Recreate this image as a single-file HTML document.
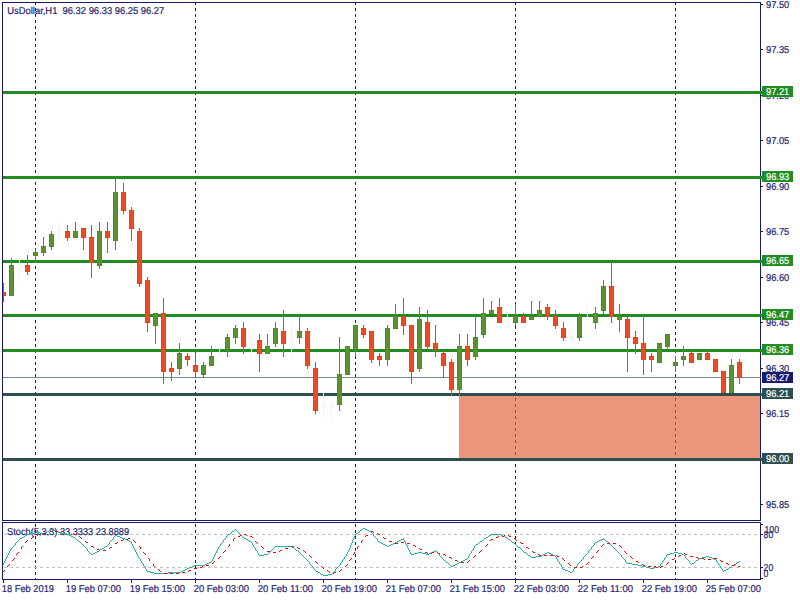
<!DOCTYPE html>
<html><head><meta charset="utf-8"><title>UsDollar,H1</title>
<style>html,body{margin:0;padding:0;background:#fff;overflow:hidden}svg{display:block}.t{font-family:"Liberation Sans",sans-serif;font-size:10px;shape-rendering:auto;text-rendering:geometricPrecision;stroke-width:0.18px}</style>
</head><body>
<svg width="800" height="600" viewBox="0 0 800 600" shape-rendering="crispEdges">
<rect x="0" y="0" width="800" height="600" fill="#FFFFFF"/>
<rect x="459" y="396" width="301" height="62" fill="#E9967A"/>
<rect x="35" y="3" width="1" height="2" fill="#191970"/>
<rect x="35" y="8" width="1" height="3" fill="#191970"/>
<rect x="35" y="14" width="1" height="3" fill="#191970"/>
<rect x="35" y="20" width="1" height="3" fill="#191970"/>
<rect x="35" y="26" width="1" height="3" fill="#191970"/>
<rect x="35" y="32" width="1" height="3" fill="#191970"/>
<rect x="35" y="38" width="1" height="3" fill="#191970"/>
<rect x="35" y="44" width="1" height="3" fill="#191970"/>
<rect x="35" y="50" width="1" height="3" fill="#191970"/>
<rect x="35" y="56" width="1" height="3" fill="#191970"/>
<rect x="35" y="62" width="1" height="3" fill="#191970"/>
<rect x="35" y="68" width="1" height="3" fill="#191970"/>
<rect x="35" y="74" width="1" height="3" fill="#191970"/>
<rect x="35" y="80" width="1" height="3" fill="#191970"/>
<rect x="35" y="86" width="1" height="3" fill="#191970"/>
<rect x="35" y="92" width="1" height="3" fill="#191970"/>
<rect x="35" y="98" width="1" height="3" fill="#191970"/>
<rect x="35" y="104" width="1" height="3" fill="#191970"/>
<rect x="35" y="110" width="1" height="3" fill="#191970"/>
<rect x="35" y="116" width="1" height="3" fill="#191970"/>
<rect x="35" y="122" width="1" height="3" fill="#191970"/>
<rect x="35" y="128" width="1" height="3" fill="#191970"/>
<rect x="35" y="134" width="1" height="3" fill="#191970"/>
<rect x="35" y="140" width="1" height="3" fill="#191970"/>
<rect x="35" y="146" width="1" height="3" fill="#191970"/>
<rect x="35" y="152" width="1" height="3" fill="#191970"/>
<rect x="35" y="158" width="1" height="3" fill="#191970"/>
<rect x="35" y="164" width="1" height="3" fill="#191970"/>
<rect x="35" y="170" width="1" height="3" fill="#191970"/>
<rect x="35" y="176" width="1" height="3" fill="#191970"/>
<rect x="35" y="182" width="1" height="3" fill="#191970"/>
<rect x="35" y="188" width="1" height="3" fill="#191970"/>
<rect x="35" y="194" width="1" height="3" fill="#191970"/>
<rect x="35" y="200" width="1" height="3" fill="#191970"/>
<rect x="35" y="206" width="1" height="3" fill="#191970"/>
<rect x="35" y="212" width="1" height="3" fill="#191970"/>
<rect x="35" y="218" width="1" height="3" fill="#191970"/>
<rect x="35" y="224" width="1" height="3" fill="#191970"/>
<rect x="35" y="230" width="1" height="3" fill="#191970"/>
<rect x="35" y="236" width="1" height="3" fill="#191970"/>
<rect x="35" y="242" width="1" height="3" fill="#191970"/>
<rect x="35" y="248" width="1" height="3" fill="#191970"/>
<rect x="35" y="254" width="1" height="3" fill="#191970"/>
<rect x="35" y="260" width="1" height="3" fill="#191970"/>
<rect x="35" y="266" width="1" height="3" fill="#191970"/>
<rect x="35" y="272" width="1" height="3" fill="#191970"/>
<rect x="35" y="278" width="1" height="3" fill="#191970"/>
<rect x="35" y="284" width="1" height="3" fill="#191970"/>
<rect x="35" y="290" width="1" height="3" fill="#191970"/>
<rect x="35" y="296" width="1" height="3" fill="#191970"/>
<rect x="35" y="302" width="1" height="3" fill="#191970"/>
<rect x="35" y="308" width="1" height="3" fill="#191970"/>
<rect x="35" y="314" width="1" height="3" fill="#191970"/>
<rect x="35" y="320" width="1" height="3" fill="#191970"/>
<rect x="35" y="326" width="1" height="3" fill="#191970"/>
<rect x="35" y="332" width="1" height="3" fill="#191970"/>
<rect x="35" y="338" width="1" height="3" fill="#191970"/>
<rect x="35" y="344" width="1" height="3" fill="#191970"/>
<rect x="35" y="350" width="1" height="3" fill="#191970"/>
<rect x="35" y="356" width="1" height="3" fill="#191970"/>
<rect x="35" y="362" width="1" height="3" fill="#191970"/>
<rect x="35" y="368" width="1" height="3" fill="#191970"/>
<rect x="35" y="374" width="1" height="3" fill="#191970"/>
<rect x="35" y="380" width="1" height="3" fill="#191970"/>
<rect x="35" y="386" width="1" height="3" fill="#191970"/>
<rect x="35" y="392" width="1" height="3" fill="#191970"/>
<rect x="35" y="398" width="1" height="3" fill="#191970"/>
<rect x="35" y="404" width="1" height="3" fill="#191970"/>
<rect x="35" y="410" width="1" height="3" fill="#191970"/>
<rect x="35" y="416" width="1" height="3" fill="#191970"/>
<rect x="35" y="422" width="1" height="3" fill="#191970"/>
<rect x="35" y="428" width="1" height="3" fill="#191970"/>
<rect x="35" y="434" width="1" height="3" fill="#191970"/>
<rect x="35" y="440" width="1" height="3" fill="#191970"/>
<rect x="35" y="446" width="1" height="3" fill="#191970"/>
<rect x="35" y="452" width="1" height="3" fill="#191970"/>
<rect x="35" y="458" width="1" height="3" fill="#191970"/>
<rect x="35" y="464" width="1" height="3" fill="#191970"/>
<rect x="35" y="470" width="1" height="3" fill="#191970"/>
<rect x="35" y="476" width="1" height="3" fill="#191970"/>
<rect x="35" y="482" width="1" height="3" fill="#191970"/>
<rect x="35" y="488" width="1" height="3" fill="#191970"/>
<rect x="35" y="494" width="1" height="3" fill="#191970"/>
<rect x="35" y="500" width="1" height="3" fill="#191970"/>
<rect x="35" y="506" width="1" height="3" fill="#191970"/>
<rect x="35" y="512" width="1" height="3" fill="#191970"/>
<rect x="35" y="518" width="1" height="2" fill="#191970"/>
<rect x="35" y="524" width="1" height="3" fill="#191970"/>
<rect x="35" y="530" width="1" height="3" fill="#191970"/>
<rect x="35" y="536" width="1" height="3" fill="#191970"/>
<rect x="35" y="542" width="1" height="3" fill="#191970"/>
<rect x="35" y="548" width="1" height="3" fill="#191970"/>
<rect x="35" y="554" width="1" height="3" fill="#191970"/>
<rect x="35" y="560" width="1" height="3" fill="#191970"/>
<rect x="35" y="566" width="1" height="3" fill="#191970"/>
<rect x="35" y="572" width="1" height="3" fill="#191970"/>
<rect x="35" y="578" width="1" height="1" fill="#191970"/>
<rect x="195" y="3" width="1" height="2" fill="#191970"/>
<rect x="195" y="8" width="1" height="3" fill="#191970"/>
<rect x="195" y="14" width="1" height="3" fill="#191970"/>
<rect x="195" y="20" width="1" height="3" fill="#191970"/>
<rect x="195" y="26" width="1" height="3" fill="#191970"/>
<rect x="195" y="32" width="1" height="3" fill="#191970"/>
<rect x="195" y="38" width="1" height="3" fill="#191970"/>
<rect x="195" y="44" width="1" height="3" fill="#191970"/>
<rect x="195" y="50" width="1" height="3" fill="#191970"/>
<rect x="195" y="56" width="1" height="3" fill="#191970"/>
<rect x="195" y="62" width="1" height="3" fill="#191970"/>
<rect x="195" y="68" width="1" height="3" fill="#191970"/>
<rect x="195" y="74" width="1" height="3" fill="#191970"/>
<rect x="195" y="80" width="1" height="3" fill="#191970"/>
<rect x="195" y="86" width="1" height="3" fill="#191970"/>
<rect x="195" y="92" width="1" height="3" fill="#191970"/>
<rect x="195" y="98" width="1" height="3" fill="#191970"/>
<rect x="195" y="104" width="1" height="3" fill="#191970"/>
<rect x="195" y="110" width="1" height="3" fill="#191970"/>
<rect x="195" y="116" width="1" height="3" fill="#191970"/>
<rect x="195" y="122" width="1" height="3" fill="#191970"/>
<rect x="195" y="128" width="1" height="3" fill="#191970"/>
<rect x="195" y="134" width="1" height="3" fill="#191970"/>
<rect x="195" y="140" width="1" height="3" fill="#191970"/>
<rect x="195" y="146" width="1" height="3" fill="#191970"/>
<rect x="195" y="152" width="1" height="3" fill="#191970"/>
<rect x="195" y="158" width="1" height="3" fill="#191970"/>
<rect x="195" y="164" width="1" height="3" fill="#191970"/>
<rect x="195" y="170" width="1" height="3" fill="#191970"/>
<rect x="195" y="176" width="1" height="3" fill="#191970"/>
<rect x="195" y="182" width="1" height="3" fill="#191970"/>
<rect x="195" y="188" width="1" height="3" fill="#191970"/>
<rect x="195" y="194" width="1" height="3" fill="#191970"/>
<rect x="195" y="200" width="1" height="3" fill="#191970"/>
<rect x="195" y="206" width="1" height="3" fill="#191970"/>
<rect x="195" y="212" width="1" height="3" fill="#191970"/>
<rect x="195" y="218" width="1" height="3" fill="#191970"/>
<rect x="195" y="224" width="1" height="3" fill="#191970"/>
<rect x="195" y="230" width="1" height="3" fill="#191970"/>
<rect x="195" y="236" width="1" height="3" fill="#191970"/>
<rect x="195" y="242" width="1" height="3" fill="#191970"/>
<rect x="195" y="248" width="1" height="3" fill="#191970"/>
<rect x="195" y="254" width="1" height="3" fill="#191970"/>
<rect x="195" y="260" width="1" height="3" fill="#191970"/>
<rect x="195" y="266" width="1" height="3" fill="#191970"/>
<rect x="195" y="272" width="1" height="3" fill="#191970"/>
<rect x="195" y="278" width="1" height="3" fill="#191970"/>
<rect x="195" y="284" width="1" height="3" fill="#191970"/>
<rect x="195" y="290" width="1" height="3" fill="#191970"/>
<rect x="195" y="296" width="1" height="3" fill="#191970"/>
<rect x="195" y="302" width="1" height="3" fill="#191970"/>
<rect x="195" y="308" width="1" height="3" fill="#191970"/>
<rect x="195" y="314" width="1" height="3" fill="#191970"/>
<rect x="195" y="320" width="1" height="3" fill="#191970"/>
<rect x="195" y="326" width="1" height="3" fill="#191970"/>
<rect x="195" y="332" width="1" height="3" fill="#191970"/>
<rect x="195" y="338" width="1" height="3" fill="#191970"/>
<rect x="195" y="344" width="1" height="3" fill="#191970"/>
<rect x="195" y="350" width="1" height="3" fill="#191970"/>
<rect x="195" y="356" width="1" height="3" fill="#191970"/>
<rect x="195" y="362" width="1" height="3" fill="#191970"/>
<rect x="195" y="368" width="1" height="3" fill="#191970"/>
<rect x="195" y="374" width="1" height="3" fill="#191970"/>
<rect x="195" y="380" width="1" height="3" fill="#191970"/>
<rect x="195" y="386" width="1" height="3" fill="#191970"/>
<rect x="195" y="392" width="1" height="3" fill="#191970"/>
<rect x="195" y="398" width="1" height="3" fill="#191970"/>
<rect x="195" y="404" width="1" height="3" fill="#191970"/>
<rect x="195" y="410" width="1" height="3" fill="#191970"/>
<rect x="195" y="416" width="1" height="3" fill="#191970"/>
<rect x="195" y="422" width="1" height="3" fill="#191970"/>
<rect x="195" y="428" width="1" height="3" fill="#191970"/>
<rect x="195" y="434" width="1" height="3" fill="#191970"/>
<rect x="195" y="440" width="1" height="3" fill="#191970"/>
<rect x="195" y="446" width="1" height="3" fill="#191970"/>
<rect x="195" y="452" width="1" height="3" fill="#191970"/>
<rect x="195" y="458" width="1" height="3" fill="#191970"/>
<rect x="195" y="464" width="1" height="3" fill="#191970"/>
<rect x="195" y="470" width="1" height="3" fill="#191970"/>
<rect x="195" y="476" width="1" height="3" fill="#191970"/>
<rect x="195" y="482" width="1" height="3" fill="#191970"/>
<rect x="195" y="488" width="1" height="3" fill="#191970"/>
<rect x="195" y="494" width="1" height="3" fill="#191970"/>
<rect x="195" y="500" width="1" height="3" fill="#191970"/>
<rect x="195" y="506" width="1" height="3" fill="#191970"/>
<rect x="195" y="512" width="1" height="3" fill="#191970"/>
<rect x="195" y="518" width="1" height="2" fill="#191970"/>
<rect x="195" y="524" width="1" height="3" fill="#191970"/>
<rect x="195" y="530" width="1" height="3" fill="#191970"/>
<rect x="195" y="536" width="1" height="3" fill="#191970"/>
<rect x="195" y="542" width="1" height="3" fill="#191970"/>
<rect x="195" y="548" width="1" height="3" fill="#191970"/>
<rect x="195" y="554" width="1" height="3" fill="#191970"/>
<rect x="195" y="560" width="1" height="3" fill="#191970"/>
<rect x="195" y="566" width="1" height="3" fill="#191970"/>
<rect x="195" y="572" width="1" height="3" fill="#191970"/>
<rect x="195" y="578" width="1" height="1" fill="#191970"/>
<rect x="355" y="3" width="1" height="2" fill="#191970"/>
<rect x="355" y="8" width="1" height="3" fill="#191970"/>
<rect x="355" y="14" width="1" height="3" fill="#191970"/>
<rect x="355" y="20" width="1" height="3" fill="#191970"/>
<rect x="355" y="26" width="1" height="3" fill="#191970"/>
<rect x="355" y="32" width="1" height="3" fill="#191970"/>
<rect x="355" y="38" width="1" height="3" fill="#191970"/>
<rect x="355" y="44" width="1" height="3" fill="#191970"/>
<rect x="355" y="50" width="1" height="3" fill="#191970"/>
<rect x="355" y="56" width="1" height="3" fill="#191970"/>
<rect x="355" y="62" width="1" height="3" fill="#191970"/>
<rect x="355" y="68" width="1" height="3" fill="#191970"/>
<rect x="355" y="74" width="1" height="3" fill="#191970"/>
<rect x="355" y="80" width="1" height="3" fill="#191970"/>
<rect x="355" y="86" width="1" height="3" fill="#191970"/>
<rect x="355" y="92" width="1" height="3" fill="#191970"/>
<rect x="355" y="98" width="1" height="3" fill="#191970"/>
<rect x="355" y="104" width="1" height="3" fill="#191970"/>
<rect x="355" y="110" width="1" height="3" fill="#191970"/>
<rect x="355" y="116" width="1" height="3" fill="#191970"/>
<rect x="355" y="122" width="1" height="3" fill="#191970"/>
<rect x="355" y="128" width="1" height="3" fill="#191970"/>
<rect x="355" y="134" width="1" height="3" fill="#191970"/>
<rect x="355" y="140" width="1" height="3" fill="#191970"/>
<rect x="355" y="146" width="1" height="3" fill="#191970"/>
<rect x="355" y="152" width="1" height="3" fill="#191970"/>
<rect x="355" y="158" width="1" height="3" fill="#191970"/>
<rect x="355" y="164" width="1" height="3" fill="#191970"/>
<rect x="355" y="170" width="1" height="3" fill="#191970"/>
<rect x="355" y="176" width="1" height="3" fill="#191970"/>
<rect x="355" y="182" width="1" height="3" fill="#191970"/>
<rect x="355" y="188" width="1" height="3" fill="#191970"/>
<rect x="355" y="194" width="1" height="3" fill="#191970"/>
<rect x="355" y="200" width="1" height="3" fill="#191970"/>
<rect x="355" y="206" width="1" height="3" fill="#191970"/>
<rect x="355" y="212" width="1" height="3" fill="#191970"/>
<rect x="355" y="218" width="1" height="3" fill="#191970"/>
<rect x="355" y="224" width="1" height="3" fill="#191970"/>
<rect x="355" y="230" width="1" height="3" fill="#191970"/>
<rect x="355" y="236" width="1" height="3" fill="#191970"/>
<rect x="355" y="242" width="1" height="3" fill="#191970"/>
<rect x="355" y="248" width="1" height="3" fill="#191970"/>
<rect x="355" y="254" width="1" height="3" fill="#191970"/>
<rect x="355" y="260" width="1" height="3" fill="#191970"/>
<rect x="355" y="266" width="1" height="3" fill="#191970"/>
<rect x="355" y="272" width="1" height="3" fill="#191970"/>
<rect x="355" y="278" width="1" height="3" fill="#191970"/>
<rect x="355" y="284" width="1" height="3" fill="#191970"/>
<rect x="355" y="290" width="1" height="3" fill="#191970"/>
<rect x="355" y="296" width="1" height="3" fill="#191970"/>
<rect x="355" y="302" width="1" height="3" fill="#191970"/>
<rect x="355" y="308" width="1" height="3" fill="#191970"/>
<rect x="355" y="314" width="1" height="3" fill="#191970"/>
<rect x="355" y="320" width="1" height="3" fill="#191970"/>
<rect x="355" y="326" width="1" height="3" fill="#191970"/>
<rect x="355" y="332" width="1" height="3" fill="#191970"/>
<rect x="355" y="338" width="1" height="3" fill="#191970"/>
<rect x="355" y="344" width="1" height="3" fill="#191970"/>
<rect x="355" y="350" width="1" height="3" fill="#191970"/>
<rect x="355" y="356" width="1" height="3" fill="#191970"/>
<rect x="355" y="362" width="1" height="3" fill="#191970"/>
<rect x="355" y="368" width="1" height="3" fill="#191970"/>
<rect x="355" y="374" width="1" height="3" fill="#191970"/>
<rect x="355" y="380" width="1" height="3" fill="#191970"/>
<rect x="355" y="386" width="1" height="3" fill="#191970"/>
<rect x="355" y="392" width="1" height="3" fill="#191970"/>
<rect x="355" y="398" width="1" height="3" fill="#191970"/>
<rect x="355" y="404" width="1" height="3" fill="#191970"/>
<rect x="355" y="410" width="1" height="3" fill="#191970"/>
<rect x="355" y="416" width="1" height="3" fill="#191970"/>
<rect x="355" y="422" width="1" height="3" fill="#191970"/>
<rect x="355" y="428" width="1" height="3" fill="#191970"/>
<rect x="355" y="434" width="1" height="3" fill="#191970"/>
<rect x="355" y="440" width="1" height="3" fill="#191970"/>
<rect x="355" y="446" width="1" height="3" fill="#191970"/>
<rect x="355" y="452" width="1" height="3" fill="#191970"/>
<rect x="355" y="458" width="1" height="3" fill="#191970"/>
<rect x="355" y="464" width="1" height="3" fill="#191970"/>
<rect x="355" y="470" width="1" height="3" fill="#191970"/>
<rect x="355" y="476" width="1" height="3" fill="#191970"/>
<rect x="355" y="482" width="1" height="3" fill="#191970"/>
<rect x="355" y="488" width="1" height="3" fill="#191970"/>
<rect x="355" y="494" width="1" height="3" fill="#191970"/>
<rect x="355" y="500" width="1" height="3" fill="#191970"/>
<rect x="355" y="506" width="1" height="3" fill="#191970"/>
<rect x="355" y="512" width="1" height="3" fill="#191970"/>
<rect x="355" y="518" width="1" height="2" fill="#191970"/>
<rect x="355" y="524" width="1" height="3" fill="#191970"/>
<rect x="355" y="530" width="1" height="3" fill="#191970"/>
<rect x="355" y="536" width="1" height="3" fill="#191970"/>
<rect x="355" y="542" width="1" height="3" fill="#191970"/>
<rect x="355" y="548" width="1" height="3" fill="#191970"/>
<rect x="355" y="554" width="1" height="3" fill="#191970"/>
<rect x="355" y="560" width="1" height="3" fill="#191970"/>
<rect x="355" y="566" width="1" height="3" fill="#191970"/>
<rect x="355" y="572" width="1" height="3" fill="#191970"/>
<rect x="355" y="578" width="1" height="1" fill="#191970"/>
<rect x="515" y="3" width="1" height="2" fill="#191970"/>
<rect x="515" y="8" width="1" height="3" fill="#191970"/>
<rect x="515" y="14" width="1" height="3" fill="#191970"/>
<rect x="515" y="20" width="1" height="3" fill="#191970"/>
<rect x="515" y="26" width="1" height="3" fill="#191970"/>
<rect x="515" y="32" width="1" height="3" fill="#191970"/>
<rect x="515" y="38" width="1" height="3" fill="#191970"/>
<rect x="515" y="44" width="1" height="3" fill="#191970"/>
<rect x="515" y="50" width="1" height="3" fill="#191970"/>
<rect x="515" y="56" width="1" height="3" fill="#191970"/>
<rect x="515" y="62" width="1" height="3" fill="#191970"/>
<rect x="515" y="68" width="1" height="3" fill="#191970"/>
<rect x="515" y="74" width="1" height="3" fill="#191970"/>
<rect x="515" y="80" width="1" height="3" fill="#191970"/>
<rect x="515" y="86" width="1" height="3" fill="#191970"/>
<rect x="515" y="92" width="1" height="3" fill="#191970"/>
<rect x="515" y="98" width="1" height="3" fill="#191970"/>
<rect x="515" y="104" width="1" height="3" fill="#191970"/>
<rect x="515" y="110" width="1" height="3" fill="#191970"/>
<rect x="515" y="116" width="1" height="3" fill="#191970"/>
<rect x="515" y="122" width="1" height="3" fill="#191970"/>
<rect x="515" y="128" width="1" height="3" fill="#191970"/>
<rect x="515" y="134" width="1" height="3" fill="#191970"/>
<rect x="515" y="140" width="1" height="3" fill="#191970"/>
<rect x="515" y="146" width="1" height="3" fill="#191970"/>
<rect x="515" y="152" width="1" height="3" fill="#191970"/>
<rect x="515" y="158" width="1" height="3" fill="#191970"/>
<rect x="515" y="164" width="1" height="3" fill="#191970"/>
<rect x="515" y="170" width="1" height="3" fill="#191970"/>
<rect x="515" y="176" width="1" height="3" fill="#191970"/>
<rect x="515" y="182" width="1" height="3" fill="#191970"/>
<rect x="515" y="188" width="1" height="3" fill="#191970"/>
<rect x="515" y="194" width="1" height="3" fill="#191970"/>
<rect x="515" y="200" width="1" height="3" fill="#191970"/>
<rect x="515" y="206" width="1" height="3" fill="#191970"/>
<rect x="515" y="212" width="1" height="3" fill="#191970"/>
<rect x="515" y="218" width="1" height="3" fill="#191970"/>
<rect x="515" y="224" width="1" height="3" fill="#191970"/>
<rect x="515" y="230" width="1" height="3" fill="#191970"/>
<rect x="515" y="236" width="1" height="3" fill="#191970"/>
<rect x="515" y="242" width="1" height="3" fill="#191970"/>
<rect x="515" y="248" width="1" height="3" fill="#191970"/>
<rect x="515" y="254" width="1" height="3" fill="#191970"/>
<rect x="515" y="260" width="1" height="3" fill="#191970"/>
<rect x="515" y="266" width="1" height="3" fill="#191970"/>
<rect x="515" y="272" width="1" height="3" fill="#191970"/>
<rect x="515" y="278" width="1" height="3" fill="#191970"/>
<rect x="515" y="284" width="1" height="3" fill="#191970"/>
<rect x="515" y="290" width="1" height="3" fill="#191970"/>
<rect x="515" y="296" width="1" height="3" fill="#191970"/>
<rect x="515" y="302" width="1" height="3" fill="#191970"/>
<rect x="515" y="308" width="1" height="3" fill="#191970"/>
<rect x="515" y="314" width="1" height="3" fill="#191970"/>
<rect x="515" y="320" width="1" height="3" fill="#191970"/>
<rect x="515" y="326" width="1" height="3" fill="#191970"/>
<rect x="515" y="332" width="1" height="3" fill="#191970"/>
<rect x="515" y="338" width="1" height="3" fill="#191970"/>
<rect x="515" y="344" width="1" height="3" fill="#191970"/>
<rect x="515" y="350" width="1" height="3" fill="#191970"/>
<rect x="515" y="356" width="1" height="3" fill="#191970"/>
<rect x="515" y="362" width="1" height="3" fill="#191970"/>
<rect x="515" y="368" width="1" height="3" fill="#191970"/>
<rect x="515" y="374" width="1" height="3" fill="#191970"/>
<rect x="515" y="380" width="1" height="3" fill="#191970"/>
<rect x="515" y="386" width="1" height="3" fill="#191970"/>
<rect x="515" y="392" width="1" height="3" fill="#191970"/>
<rect x="515" y="398" width="1" height="1" fill="#0F70F5"/>
<rect x="515" y="399" width="1" height="1" fill="#0F70F5"/>
<rect x="515" y="400" width="1" height="1" fill="#0F70F5"/>
<rect x="515" y="404" width="1" height="1" fill="#0F70F5"/>
<rect x="515" y="405" width="1" height="1" fill="#0F70F5"/>
<rect x="515" y="406" width="1" height="1" fill="#0F70F5"/>
<rect x="515" y="410" width="1" height="1" fill="#0F70F5"/>
<rect x="515" y="411" width="1" height="1" fill="#0F70F5"/>
<rect x="515" y="412" width="1" height="1" fill="#0F70F5"/>
<rect x="515" y="416" width="1" height="1" fill="#0F70F5"/>
<rect x="515" y="417" width="1" height="1" fill="#0F70F5"/>
<rect x="515" y="418" width="1" height="1" fill="#0F70F5"/>
<rect x="515" y="422" width="1" height="1" fill="#0F70F5"/>
<rect x="515" y="423" width="1" height="1" fill="#0F70F5"/>
<rect x="515" y="424" width="1" height="1" fill="#0F70F5"/>
<rect x="515" y="428" width="1" height="1" fill="#0F70F5"/>
<rect x="515" y="429" width="1" height="1" fill="#0F70F5"/>
<rect x="515" y="430" width="1" height="1" fill="#0F70F5"/>
<rect x="515" y="434" width="1" height="1" fill="#0F70F5"/>
<rect x="515" y="435" width="1" height="1" fill="#0F70F5"/>
<rect x="515" y="436" width="1" height="1" fill="#0F70F5"/>
<rect x="515" y="440" width="1" height="1" fill="#0F70F5"/>
<rect x="515" y="441" width="1" height="1" fill="#0F70F5"/>
<rect x="515" y="442" width="1" height="1" fill="#0F70F5"/>
<rect x="515" y="446" width="1" height="1" fill="#0F70F5"/>
<rect x="515" y="447" width="1" height="1" fill="#0F70F5"/>
<rect x="515" y="448" width="1" height="1" fill="#0F70F5"/>
<rect x="515" y="452" width="1" height="1" fill="#0F70F5"/>
<rect x="515" y="453" width="1" height="1" fill="#0F70F5"/>
<rect x="515" y="454" width="1" height="1" fill="#0F70F5"/>
<rect x="515" y="458" width="1" height="3" fill="#191970"/>
<rect x="515" y="464" width="1" height="3" fill="#191970"/>
<rect x="515" y="470" width="1" height="3" fill="#191970"/>
<rect x="515" y="476" width="1" height="3" fill="#191970"/>
<rect x="515" y="482" width="1" height="3" fill="#191970"/>
<rect x="515" y="488" width="1" height="3" fill="#191970"/>
<rect x="515" y="494" width="1" height="3" fill="#191970"/>
<rect x="515" y="500" width="1" height="3" fill="#191970"/>
<rect x="515" y="506" width="1" height="3" fill="#191970"/>
<rect x="515" y="512" width="1" height="3" fill="#191970"/>
<rect x="515" y="518" width="1" height="2" fill="#191970"/>
<rect x="515" y="524" width="1" height="3" fill="#191970"/>
<rect x="515" y="530" width="1" height="3" fill="#191970"/>
<rect x="515" y="536" width="1" height="3" fill="#191970"/>
<rect x="515" y="542" width="1" height="3" fill="#191970"/>
<rect x="515" y="548" width="1" height="3" fill="#191970"/>
<rect x="515" y="554" width="1" height="3" fill="#191970"/>
<rect x="515" y="560" width="1" height="3" fill="#191970"/>
<rect x="515" y="566" width="1" height="3" fill="#191970"/>
<rect x="515" y="572" width="1" height="3" fill="#191970"/>
<rect x="515" y="578" width="1" height="1" fill="#191970"/>
<rect x="675" y="3" width="1" height="2" fill="#191970"/>
<rect x="675" y="8" width="1" height="3" fill="#191970"/>
<rect x="675" y="14" width="1" height="3" fill="#191970"/>
<rect x="675" y="20" width="1" height="3" fill="#191970"/>
<rect x="675" y="26" width="1" height="3" fill="#191970"/>
<rect x="675" y="32" width="1" height="3" fill="#191970"/>
<rect x="675" y="38" width="1" height="3" fill="#191970"/>
<rect x="675" y="44" width="1" height="3" fill="#191970"/>
<rect x="675" y="50" width="1" height="3" fill="#191970"/>
<rect x="675" y="56" width="1" height="3" fill="#191970"/>
<rect x="675" y="62" width="1" height="3" fill="#191970"/>
<rect x="675" y="68" width="1" height="3" fill="#191970"/>
<rect x="675" y="74" width="1" height="3" fill="#191970"/>
<rect x="675" y="80" width="1" height="3" fill="#191970"/>
<rect x="675" y="86" width="1" height="3" fill="#191970"/>
<rect x="675" y="92" width="1" height="3" fill="#191970"/>
<rect x="675" y="98" width="1" height="3" fill="#191970"/>
<rect x="675" y="104" width="1" height="3" fill="#191970"/>
<rect x="675" y="110" width="1" height="3" fill="#191970"/>
<rect x="675" y="116" width="1" height="3" fill="#191970"/>
<rect x="675" y="122" width="1" height="3" fill="#191970"/>
<rect x="675" y="128" width="1" height="3" fill="#191970"/>
<rect x="675" y="134" width="1" height="3" fill="#191970"/>
<rect x="675" y="140" width="1" height="3" fill="#191970"/>
<rect x="675" y="146" width="1" height="3" fill="#191970"/>
<rect x="675" y="152" width="1" height="3" fill="#191970"/>
<rect x="675" y="158" width="1" height="3" fill="#191970"/>
<rect x="675" y="164" width="1" height="3" fill="#191970"/>
<rect x="675" y="170" width="1" height="3" fill="#191970"/>
<rect x="675" y="176" width="1" height="3" fill="#191970"/>
<rect x="675" y="182" width="1" height="3" fill="#191970"/>
<rect x="675" y="188" width="1" height="3" fill="#191970"/>
<rect x="675" y="194" width="1" height="3" fill="#191970"/>
<rect x="675" y="200" width="1" height="3" fill="#191970"/>
<rect x="675" y="206" width="1" height="3" fill="#191970"/>
<rect x="675" y="212" width="1" height="3" fill="#191970"/>
<rect x="675" y="218" width="1" height="3" fill="#191970"/>
<rect x="675" y="224" width="1" height="3" fill="#191970"/>
<rect x="675" y="230" width="1" height="3" fill="#191970"/>
<rect x="675" y="236" width="1" height="3" fill="#191970"/>
<rect x="675" y="242" width="1" height="3" fill="#191970"/>
<rect x="675" y="248" width="1" height="3" fill="#191970"/>
<rect x="675" y="254" width="1" height="3" fill="#191970"/>
<rect x="675" y="260" width="1" height="3" fill="#191970"/>
<rect x="675" y="266" width="1" height="3" fill="#191970"/>
<rect x="675" y="272" width="1" height="3" fill="#191970"/>
<rect x="675" y="278" width="1" height="3" fill="#191970"/>
<rect x="675" y="284" width="1" height="3" fill="#191970"/>
<rect x="675" y="290" width="1" height="3" fill="#191970"/>
<rect x="675" y="296" width="1" height="3" fill="#191970"/>
<rect x="675" y="302" width="1" height="3" fill="#191970"/>
<rect x="675" y="308" width="1" height="3" fill="#191970"/>
<rect x="675" y="314" width="1" height="3" fill="#191970"/>
<rect x="675" y="320" width="1" height="3" fill="#191970"/>
<rect x="675" y="326" width="1" height="3" fill="#191970"/>
<rect x="675" y="332" width="1" height="3" fill="#191970"/>
<rect x="675" y="338" width="1" height="3" fill="#191970"/>
<rect x="675" y="344" width="1" height="3" fill="#191970"/>
<rect x="675" y="350" width="1" height="3" fill="#191970"/>
<rect x="675" y="356" width="1" height="3" fill="#191970"/>
<rect x="675" y="362" width="1" height="3" fill="#191970"/>
<rect x="675" y="368" width="1" height="3" fill="#191970"/>
<rect x="675" y="374" width="1" height="3" fill="#191970"/>
<rect x="675" y="380" width="1" height="3" fill="#191970"/>
<rect x="675" y="386" width="1" height="3" fill="#191970"/>
<rect x="675" y="392" width="1" height="3" fill="#191970"/>
<rect x="675" y="398" width="1" height="1" fill="#0F70F5"/>
<rect x="675" y="399" width="1" height="1" fill="#0F70F5"/>
<rect x="675" y="400" width="1" height="1" fill="#0F70F5"/>
<rect x="675" y="404" width="1" height="1" fill="#0F70F5"/>
<rect x="675" y="405" width="1" height="1" fill="#0F70F5"/>
<rect x="675" y="406" width="1" height="1" fill="#0F70F5"/>
<rect x="675" y="410" width="1" height="1" fill="#0F70F5"/>
<rect x="675" y="411" width="1" height="1" fill="#0F70F5"/>
<rect x="675" y="412" width="1" height="1" fill="#0F70F5"/>
<rect x="675" y="416" width="1" height="1" fill="#0F70F5"/>
<rect x="675" y="417" width="1" height="1" fill="#0F70F5"/>
<rect x="675" y="418" width="1" height="1" fill="#0F70F5"/>
<rect x="675" y="422" width="1" height="1" fill="#0F70F5"/>
<rect x="675" y="423" width="1" height="1" fill="#0F70F5"/>
<rect x="675" y="424" width="1" height="1" fill="#0F70F5"/>
<rect x="675" y="428" width="1" height="1" fill="#0F70F5"/>
<rect x="675" y="429" width="1" height="1" fill="#0F70F5"/>
<rect x="675" y="430" width="1" height="1" fill="#0F70F5"/>
<rect x="675" y="434" width="1" height="1" fill="#0F70F5"/>
<rect x="675" y="435" width="1" height="1" fill="#0F70F5"/>
<rect x="675" y="436" width="1" height="1" fill="#0F70F5"/>
<rect x="675" y="440" width="1" height="1" fill="#0F70F5"/>
<rect x="675" y="441" width="1" height="1" fill="#0F70F5"/>
<rect x="675" y="442" width="1" height="1" fill="#0F70F5"/>
<rect x="675" y="446" width="1" height="1" fill="#0F70F5"/>
<rect x="675" y="447" width="1" height="1" fill="#0F70F5"/>
<rect x="675" y="448" width="1" height="1" fill="#0F70F5"/>
<rect x="675" y="452" width="1" height="1" fill="#0F70F5"/>
<rect x="675" y="453" width="1" height="1" fill="#0F70F5"/>
<rect x="675" y="454" width="1" height="1" fill="#0F70F5"/>
<rect x="675" y="458" width="1" height="3" fill="#191970"/>
<rect x="675" y="464" width="1" height="3" fill="#191970"/>
<rect x="675" y="470" width="1" height="3" fill="#191970"/>
<rect x="675" y="476" width="1" height="3" fill="#191970"/>
<rect x="675" y="482" width="1" height="3" fill="#191970"/>
<rect x="675" y="488" width="1" height="3" fill="#191970"/>
<rect x="675" y="494" width="1" height="3" fill="#191970"/>
<rect x="675" y="500" width="1" height="3" fill="#191970"/>
<rect x="675" y="506" width="1" height="3" fill="#191970"/>
<rect x="675" y="512" width="1" height="3" fill="#191970"/>
<rect x="675" y="518" width="1" height="2" fill="#191970"/>
<rect x="675" y="524" width="1" height="3" fill="#191970"/>
<rect x="675" y="530" width="1" height="3" fill="#191970"/>
<rect x="675" y="536" width="1" height="3" fill="#191970"/>
<rect x="675" y="542" width="1" height="3" fill="#191970"/>
<rect x="675" y="548" width="1" height="3" fill="#191970"/>
<rect x="675" y="554" width="1" height="3" fill="#191970"/>
<rect x="675" y="560" width="1" height="3" fill="#191970"/>
<rect x="675" y="566" width="1" height="3" fill="#191970"/>
<rect x="675" y="572" width="1" height="3" fill="#191970"/>
<rect x="675" y="578" width="1" height="1" fill="#191970"/>
<rect x="760" y="2" width="1" height="519" fill="#191970"/>
<rect x="761" y="4" width="2" height="1" fill="#191970"/>
<rect x="761" y="49" width="2" height="1" fill="#191970"/>
<rect x="761" y="95" width="2" height="1" fill="#191970"/>
<rect x="761" y="140" width="2" height="1" fill="#191970"/>
<rect x="761" y="186" width="2" height="1" fill="#191970"/>
<rect x="761" y="231" width="2" height="1" fill="#191970"/>
<rect x="761" y="277" width="2" height="1" fill="#191970"/>
<rect x="761" y="322" width="2" height="1" fill="#191970"/>
<rect x="761" y="368" width="2" height="1" fill="#191970"/>
<rect x="761" y="413" width="2" height="1" fill="#191970"/>
<rect x="761" y="459" width="2" height="1" fill="#191970"/>
<rect x="761" y="504" width="2" height="1" fill="#191970"/>
<rect x="3" y="377" width="758" height="1" fill="#778899"/>
<rect x="3" y="91" width="759" height="3" fill="#228B22"/>
<rect x="3" y="176" width="759" height="3" fill="#228B22"/>
<rect x="3" y="260" width="759" height="3" fill="#228B22"/>
<rect x="3" y="314" width="759" height="3" fill="#228B22"/>
<rect x="3" y="349" width="759" height="3" fill="#228B22"/>
<rect x="3" y="393" width="759" height="3" fill="#2F4F4F"/>
<rect x="3" y="458" width="759" height="3" fill="#2F4F4F"/>
<rect x="3" y="283" width="1" height="19" fill="#EC4014"/>
<rect x="3" y="292" width="3" height="4" fill="#EC4014"/>
<rect x="3" y="293" width="2" height="2" fill="#EE4A24"/>
<rect x="11" y="258" width="1" height="38" fill="#528C26"/>
<rect x="9" y="265" width="5" height="31" fill="#528C26"/>
<rect x="10" y="266" width="3" height="29" fill="#5B9230"/>
<rect x="19" y="258" width="1" height="23" fill="#FAF0E6"/>
<rect x="17" y="265" width="5" height="1" fill="#FAF0E6"/>
<rect x="27" y="255" width="1" height="20" fill="#EC4014"/>
<rect x="25" y="265" width="5" height="7" fill="#EC4014"/>
<rect x="26" y="266" width="3" height="5" fill="#EE4A24"/>
<rect x="35" y="249" width="1" height="14" fill="#528C26"/>
<rect x="33" y="252" width="5" height="4" fill="#528C26"/>
<rect x="34" y="253" width="3" height="2" fill="#5B9230"/>
<rect x="43" y="237" width="1" height="19" fill="#528C26"/>
<rect x="41" y="246" width="5" height="7" fill="#528C26"/>
<rect x="42" y="247" width="3" height="5" fill="#5B9230"/>
<rect x="51" y="231" width="1" height="19" fill="#528C26"/>
<rect x="49" y="234" width="5" height="13" fill="#528C26"/>
<rect x="50" y="235" width="3" height="11" fill="#5B9230"/>
<rect x="59" y="222" width="1" height="19" fill="#FAF0E6"/>
<rect x="57" y="231" width="5" height="1" fill="#FAF0E6"/>
<rect x="67" y="225" width="1" height="16" fill="#EC4014"/>
<rect x="65" y="231" width="5" height="7" fill="#EC4014"/>
<rect x="66" y="232" width="3" height="5" fill="#EE4A24"/>
<rect x="75" y="222" width="1" height="16" fill="#528C26"/>
<rect x="73" y="231" width="5" height="7" fill="#528C26"/>
<rect x="74" y="232" width="3" height="5" fill="#5B9230"/>
<rect x="83" y="228" width="1" height="22" fill="#EC4014"/>
<rect x="81" y="228" width="5" height="10" fill="#EC4014"/>
<rect x="82" y="229" width="3" height="8" fill="#EE4A24"/>
<rect x="91" y="225" width="1" height="53" fill="#EC4014"/>
<rect x="89" y="237" width="5" height="26" fill="#EC4014"/>
<rect x="90" y="238" width="3" height="24" fill="#EE4A24"/>
<rect x="99" y="222" width="1" height="47" fill="#528C26"/>
<rect x="97" y="231" width="5" height="35" fill="#528C26"/>
<rect x="98" y="232" width="3" height="33" fill="#5B9230"/>
<rect x="107" y="222" width="1" height="31" fill="#EC4014"/>
<rect x="105" y="231" width="5" height="7" fill="#EC4014"/>
<rect x="106" y="232" width="3" height="5" fill="#EE4A24"/>
<rect x="115" y="177" width="1" height="73" fill="#528C26"/>
<rect x="113" y="192" width="5" height="49" fill="#528C26"/>
<rect x="114" y="193" width="3" height="47" fill="#5B9230"/>
<rect x="123" y="183" width="1" height="31" fill="#EC4014"/>
<rect x="121" y="192" width="5" height="19" fill="#EC4014"/>
<rect x="122" y="193" width="3" height="17" fill="#EE4A24"/>
<rect x="131" y="207" width="1" height="34" fill="#EC4014"/>
<rect x="129" y="210" width="5" height="19" fill="#EC4014"/>
<rect x="130" y="211" width="3" height="17" fill="#EE4A24"/>
<rect x="139" y="228" width="1" height="59" fill="#EC4014"/>
<rect x="137" y="231" width="5" height="53" fill="#EC4014"/>
<rect x="138" y="232" width="3" height="51" fill="#EE4A24"/>
<rect x="147" y="277" width="1" height="55" fill="#EC4014"/>
<rect x="145" y="280" width="5" height="43" fill="#EC4014"/>
<rect x="146" y="281" width="3" height="41" fill="#EE4A24"/>
<rect x="155" y="313" width="1" height="31" fill="#528C26"/>
<rect x="153" y="313" width="5" height="13" fill="#528C26"/>
<rect x="154" y="314" width="3" height="11" fill="#5B9230"/>
<rect x="163" y="298" width="1" height="86" fill="#EC4014"/>
<rect x="161" y="313" width="5" height="59" fill="#EC4014"/>
<rect x="162" y="314" width="3" height="57" fill="#EE4A24"/>
<rect x="171" y="362" width="1" height="19" fill="#EC4014"/>
<rect x="169" y="368" width="5" height="4" fill="#EC4014"/>
<rect x="170" y="369" width="3" height="2" fill="#EE4A24"/>
<rect x="179" y="343" width="1" height="32" fill="#528C26"/>
<rect x="177" y="353" width="5" height="16" fill="#528C26"/>
<rect x="178" y="354" width="3" height="14" fill="#5B9230"/>
<rect x="187" y="353" width="1" height="13" fill="#EC4014"/>
<rect x="185" y="356" width="5" height="4" fill="#EC4014"/>
<rect x="186" y="357" width="3" height="2" fill="#EE4A24"/>
<rect x="195" y="353" width="1" height="25" fill="#EC4014"/>
<rect x="193" y="365" width="5" height="7" fill="#EC4014"/>
<rect x="194" y="366" width="3" height="5" fill="#EE4A24"/>
<rect x="203" y="362" width="1" height="16" fill="#528C26"/>
<rect x="201" y="365" width="5" height="10" fill="#528C26"/>
<rect x="202" y="366" width="3" height="8" fill="#5B9230"/>
<rect x="211" y="346" width="1" height="20" fill="#528C26"/>
<rect x="209" y="356" width="5" height="10" fill="#528C26"/>
<rect x="210" y="357" width="3" height="8" fill="#5B9230"/>
<rect x="219" y="346" width="1" height="11" fill="#FAF0E6"/>
<rect x="217" y="353" width="5" height="1" fill="#FAF0E6"/>
<rect x="227" y="334" width="1" height="23" fill="#528C26"/>
<rect x="225" y="337" width="5" height="13" fill="#528C26"/>
<rect x="226" y="338" width="3" height="11" fill="#5B9230"/>
<rect x="235" y="325" width="1" height="19" fill="#528C26"/>
<rect x="233" y="328" width="5" height="10" fill="#528C26"/>
<rect x="234" y="329" width="3" height="8" fill="#5B9230"/>
<rect x="243" y="322" width="1" height="32" fill="#EC4014"/>
<rect x="241" y="328" width="5" height="19" fill="#EC4014"/>
<rect x="242" y="329" width="3" height="17" fill="#EE4A24"/>
<rect x="251" y="331" width="1" height="32" fill="#FAF0E6"/>
<rect x="249" y="343" width="5" height="1" fill="#FAF0E6"/>
<rect x="259" y="334" width="1" height="38" fill="#EC4014"/>
<rect x="257" y="340" width="5" height="14" fill="#EC4014"/>
<rect x="258" y="341" width="3" height="12" fill="#EE4A24"/>
<rect x="267" y="334" width="1" height="20" fill="#528C26"/>
<rect x="265" y="346" width="5" height="8" fill="#528C26"/>
<rect x="266" y="347" width="3" height="6" fill="#5B9230"/>
<rect x="275" y="322" width="1" height="25" fill="#528C26"/>
<rect x="273" y="328" width="5" height="16" fill="#528C26"/>
<rect x="274" y="329" width="3" height="14" fill="#5B9230"/>
<rect x="283" y="310" width="1" height="47" fill="#EC4014"/>
<rect x="281" y="331" width="5" height="13" fill="#EC4014"/>
<rect x="282" y="332" width="3" height="11" fill="#EE4A24"/>
<rect x="291" y="322" width="1" height="35" fill="#FAF0E6"/>
<rect x="289" y="340" width="5" height="1" fill="#FAF0E6"/>
<rect x="299" y="316" width="1" height="28" fill="#528C26"/>
<rect x="297" y="331" width="5" height="7" fill="#528C26"/>
<rect x="298" y="332" width="3" height="5" fill="#5B9230"/>
<rect x="307" y="328" width="1" height="41" fill="#EC4014"/>
<rect x="305" y="331" width="5" height="35" fill="#EC4014"/>
<rect x="306" y="332" width="3" height="33" fill="#EE4A24"/>
<rect x="315" y="362" width="1" height="52" fill="#EC4014"/>
<rect x="313" y="368" width="5" height="43" fill="#EC4014"/>
<rect x="314" y="369" width="3" height="41" fill="#EE4A24"/>
<rect x="323" y="392" width="1" height="25" fill="#FAF0E6"/>
<rect x="321" y="407" width="5" height="1" fill="#FAF0E6"/>
<rect x="331" y="401" width="1" height="22" fill="#FAF0E6"/>
<rect x="329" y="407" width="5" height="1" fill="#FAF0E6"/>
<rect x="339" y="337" width="1" height="74" fill="#528C26"/>
<rect x="337" y="374" width="5" height="31" fill="#528C26"/>
<rect x="338" y="375" width="3" height="29" fill="#5B9230"/>
<rect x="347" y="346" width="1" height="29" fill="#528C26"/>
<rect x="345" y="346" width="5" height="29" fill="#528C26"/>
<rect x="346" y="347" width="3" height="27" fill="#5B9230"/>
<rect x="355" y="325" width="1" height="32" fill="#528C26"/>
<rect x="353" y="325" width="5" height="25" fill="#528C26"/>
<rect x="354" y="326" width="3" height="23" fill="#5B9230"/>
<rect x="363" y="325" width="1" height="13" fill="#EC4014"/>
<rect x="361" y="328" width="5" height="7" fill="#EC4014"/>
<rect x="362" y="329" width="3" height="5" fill="#EE4A24"/>
<rect x="371" y="331" width="1" height="32" fill="#EC4014"/>
<rect x="369" y="331" width="5" height="29" fill="#EC4014"/>
<rect x="370" y="332" width="3" height="27" fill="#EE4A24"/>
<rect x="379" y="353" width="1" height="13" fill="#EC4014"/>
<rect x="377" y="356" width="5" height="4" fill="#EC4014"/>
<rect x="378" y="357" width="3" height="2" fill="#EE4A24"/>
<rect x="387" y="325" width="1" height="41" fill="#528C26"/>
<rect x="385" y="328" width="5" height="32" fill="#528C26"/>
<rect x="386" y="329" width="3" height="30" fill="#5B9230"/>
<rect x="395" y="304" width="1" height="25" fill="#528C26"/>
<rect x="393" y="316" width="5" height="13" fill="#528C26"/>
<rect x="394" y="317" width="3" height="11" fill="#5B9230"/>
<rect x="403" y="298" width="1" height="37" fill="#EC4014"/>
<rect x="401" y="316" width="5" height="10" fill="#EC4014"/>
<rect x="402" y="317" width="3" height="8" fill="#EE4A24"/>
<rect x="411" y="325" width="1" height="59" fill="#EC4014"/>
<rect x="409" y="325" width="5" height="47" fill="#EC4014"/>
<rect x="410" y="326" width="3" height="45" fill="#EE4A24"/>
<rect x="419" y="307" width="1" height="65" fill="#528C26"/>
<rect x="417" y="319" width="5" height="50" fill="#528C26"/>
<rect x="418" y="320" width="3" height="48" fill="#5B9230"/>
<rect x="427" y="310" width="1" height="40" fill="#EC4014"/>
<rect x="425" y="322" width="5" height="25" fill="#EC4014"/>
<rect x="426" y="323" width="3" height="23" fill="#EE4A24"/>
<rect x="435" y="325" width="1" height="32" fill="#EC4014"/>
<rect x="433" y="343" width="5" height="7" fill="#EC4014"/>
<rect x="434" y="344" width="3" height="5" fill="#EE4A24"/>
<rect x="443" y="349" width="1" height="29" fill="#EC4014"/>
<rect x="441" y="353" width="5" height="13" fill="#EC4014"/>
<rect x="442" y="354" width="3" height="11" fill="#EE4A24"/>
<rect x="451" y="359" width="1" height="37" fill="#EC4014"/>
<rect x="449" y="362" width="5" height="28" fill="#EC4014"/>
<rect x="450" y="363" width="3" height="26" fill="#EE4A24"/>
<rect x="459" y="334" width="1" height="62" fill="#528C26"/>
<rect x="457" y="346" width="5" height="44" fill="#528C26"/>
<rect x="458" y="347" width="3" height="42" fill="#5B9230"/>
<rect x="467" y="334" width="1" height="32" fill="#EC4014"/>
<rect x="465" y="346" width="5" height="14" fill="#EC4014"/>
<rect x="466" y="347" width="3" height="12" fill="#EE4A24"/>
<rect x="475" y="316" width="1" height="44" fill="#528C26"/>
<rect x="473" y="337" width="5" height="20" fill="#528C26"/>
<rect x="474" y="338" width="3" height="18" fill="#5B9230"/>
<rect x="483" y="298" width="1" height="40" fill="#528C26"/>
<rect x="481" y="313" width="5" height="22" fill="#528C26"/>
<rect x="482" y="314" width="3" height="20" fill="#5B9230"/>
<rect x="491" y="301" width="1" height="13" fill="#528C26"/>
<rect x="489" y="310" width="5" height="4" fill="#528C26"/>
<rect x="490" y="311" width="3" height="2" fill="#5B9230"/>
<rect x="499" y="298" width="1" height="25" fill="#EC4014"/>
<rect x="497" y="307" width="5" height="16" fill="#EC4014"/>
<rect x="498" y="308" width="3" height="14" fill="#EE4A24"/>
<rect x="507" y="310" width="1" height="19" fill="#FAF0E6"/>
<rect x="505" y="322" width="5" height="1" fill="#FAF0E6"/>
<rect x="515" y="304" width="1" height="22" fill="#528C26"/>
<rect x="513" y="316" width="5" height="7" fill="#528C26"/>
<rect x="514" y="317" width="3" height="5" fill="#5B9230"/>
<rect x="523" y="313" width="1" height="10" fill="#EC4014"/>
<rect x="521" y="316" width="5" height="7" fill="#EC4014"/>
<rect x="522" y="317" width="3" height="5" fill="#EE4A24"/>
<rect x="531" y="301" width="1" height="19" fill="#528C26"/>
<rect x="529" y="316" width="5" height="4" fill="#528C26"/>
<rect x="530" y="317" width="3" height="2" fill="#5B9230"/>
<rect x="539" y="301" width="1" height="16" fill="#528C26"/>
<rect x="537" y="310" width="5" height="7" fill="#528C26"/>
<rect x="538" y="311" width="3" height="5" fill="#5B9230"/>
<rect x="547" y="304" width="1" height="16" fill="#EC4014"/>
<rect x="545" y="307" width="5" height="10" fill="#EC4014"/>
<rect x="546" y="308" width="3" height="8" fill="#EE4A24"/>
<rect x="555" y="310" width="1" height="19" fill="#EC4014"/>
<rect x="553" y="316" width="5" height="10" fill="#EC4014"/>
<rect x="554" y="317" width="3" height="8" fill="#EE4A24"/>
<rect x="563" y="322" width="1" height="19" fill="#EC4014"/>
<rect x="561" y="328" width="5" height="10" fill="#EC4014"/>
<rect x="562" y="329" width="3" height="8" fill="#EE4A24"/>
<rect x="571" y="322" width="1" height="22" fill="#FAF0E6"/>
<rect x="569" y="337" width="5" height="1" fill="#FAF0E6"/>
<rect x="579" y="313" width="1" height="28" fill="#528C26"/>
<rect x="577" y="316" width="5" height="22" fill="#528C26"/>
<rect x="578" y="317" width="3" height="20" fill="#5B9230"/>
<rect x="587" y="301" width="1" height="22" fill="#FAF0E6"/>
<rect x="585" y="319" width="5" height="1" fill="#FAF0E6"/>
<rect x="595" y="307" width="1" height="22" fill="#528C26"/>
<rect x="593" y="313" width="5" height="10" fill="#528C26"/>
<rect x="594" y="314" width="3" height="8" fill="#5B9230"/>
<rect x="603" y="280" width="1" height="34" fill="#528C26"/>
<rect x="601" y="286" width="5" height="25" fill="#528C26"/>
<rect x="602" y="287" width="3" height="23" fill="#5B9230"/>
<rect x="611" y="262" width="1" height="61" fill="#EC4014"/>
<rect x="609" y="286" width="5" height="31" fill="#EC4014"/>
<rect x="610" y="287" width="3" height="29" fill="#EE4A24"/>
<rect x="619" y="304" width="1" height="28" fill="#528C26"/>
<rect x="617" y="316" width="5" height="4" fill="#528C26"/>
<rect x="618" y="317" width="3" height="2" fill="#5B9230"/>
<rect x="627" y="316" width="1" height="56" fill="#EC4014"/>
<rect x="625" y="319" width="5" height="19" fill="#EC4014"/>
<rect x="626" y="320" width="3" height="17" fill="#EE4A24"/>
<rect x="635" y="331" width="1" height="23" fill="#EC4014"/>
<rect x="633" y="337" width="5" height="7" fill="#EC4014"/>
<rect x="634" y="338" width="3" height="5" fill="#EE4A24"/>
<rect x="643" y="316" width="1" height="59" fill="#EC4014"/>
<rect x="641" y="343" width="5" height="17" fill="#EC4014"/>
<rect x="642" y="344" width="3" height="15" fill="#EE4A24"/>
<rect x="651" y="353" width="1" height="19" fill="#EC4014"/>
<rect x="649" y="356" width="5" height="4" fill="#EC4014"/>
<rect x="650" y="357" width="3" height="2" fill="#EE4A24"/>
<rect x="659" y="343" width="1" height="20" fill="#528C26"/>
<rect x="657" y="343" width="5" height="20" fill="#528C26"/>
<rect x="658" y="344" width="3" height="18" fill="#5B9230"/>
<rect x="667" y="334" width="1" height="16" fill="#528C26"/>
<rect x="665" y="334" width="5" height="13" fill="#528C26"/>
<rect x="666" y="335" width="3" height="11" fill="#5B9230"/>
<rect x="675" y="356" width="1" height="16" fill="#528C26"/>
<rect x="673" y="362" width="5" height="4" fill="#528C26"/>
<rect x="674" y="363" width="3" height="2" fill="#5B9230"/>
<rect x="683" y="346" width="1" height="20" fill="#528C26"/>
<rect x="681" y="356" width="5" height="4" fill="#528C26"/>
<rect x="682" y="357" width="3" height="2" fill="#5B9230"/>
<rect x="691" y="349" width="1" height="14" fill="#EC4014"/>
<rect x="689" y="353" width="5" height="10" fill="#EC4014"/>
<rect x="690" y="354" width="3" height="8" fill="#EE4A24"/>
<rect x="699" y="353" width="1" height="7" fill="#528C26"/>
<rect x="697" y="353" width="5" height="7" fill="#528C26"/>
<rect x="698" y="354" width="3" height="5" fill="#5B9230"/>
<rect x="707" y="349" width="1" height="11" fill="#EC4014"/>
<rect x="705" y="353" width="5" height="7" fill="#EC4014"/>
<rect x="706" y="354" width="3" height="5" fill="#EE4A24"/>
<rect x="715" y="359" width="1" height="13" fill="#EC4014"/>
<rect x="713" y="359" width="5" height="13" fill="#EC4014"/>
<rect x="714" y="360" width="3" height="11" fill="#EE4A24"/>
<rect x="723" y="371" width="1" height="22" fill="#EC4014"/>
<rect x="721" y="371" width="5" height="22" fill="#EC4014"/>
<rect x="722" y="372" width="3" height="20" fill="#EE4A24"/>
<rect x="731" y="359" width="1" height="34" fill="#528C26"/>
<rect x="729" y="365" width="5" height="28" fill="#528C26"/>
<rect x="730" y="366" width="3" height="26" fill="#5B9230"/>
<rect x="739" y="359" width="1" height="25" fill="#EC4014"/>
<rect x="737" y="362" width="5" height="16" fill="#EC4014"/>
<rect x="738" y="363" width="3" height="14" fill="#EE4A24"/>
<rect x="4" y="534" width="3" height="1" fill="#C0C0C0"/>
<rect x="10" y="534" width="3" height="1" fill="#C0C0C0"/>
<rect x="16" y="534" width="3" height="1" fill="#C0C0C0"/>
<rect x="22" y="534" width="3" height="1" fill="#C0C0C0"/>
<rect x="28" y="534" width="3" height="1" fill="#C0C0C0"/>
<rect x="34" y="534" width="3" height="1" fill="#C0C0C0"/>
<rect x="40" y="534" width="3" height="1" fill="#C0C0C0"/>
<rect x="46" y="534" width="3" height="1" fill="#C0C0C0"/>
<rect x="52" y="534" width="3" height="1" fill="#C0C0C0"/>
<rect x="58" y="534" width="3" height="1" fill="#C0C0C0"/>
<rect x="64" y="534" width="3" height="1" fill="#C0C0C0"/>
<rect x="70" y="534" width="3" height="1" fill="#C0C0C0"/>
<rect x="76" y="534" width="3" height="1" fill="#C0C0C0"/>
<rect x="82" y="534" width="3" height="1" fill="#C0C0C0"/>
<rect x="88" y="534" width="3" height="1" fill="#C0C0C0"/>
<rect x="94" y="534" width="3" height="1" fill="#C0C0C0"/>
<rect x="100" y="534" width="3" height="1" fill="#C0C0C0"/>
<rect x="106" y="534" width="3" height="1" fill="#C0C0C0"/>
<rect x="112" y="534" width="3" height="1" fill="#C0C0C0"/>
<rect x="118" y="534" width="3" height="1" fill="#C0C0C0"/>
<rect x="124" y="534" width="3" height="1" fill="#C0C0C0"/>
<rect x="130" y="534" width="3" height="1" fill="#C0C0C0"/>
<rect x="136" y="534" width="3" height="1" fill="#C0C0C0"/>
<rect x="142" y="534" width="3" height="1" fill="#C0C0C0"/>
<rect x="148" y="534" width="3" height="1" fill="#C0C0C0"/>
<rect x="154" y="534" width="3" height="1" fill="#C0C0C0"/>
<rect x="160" y="534" width="3" height="1" fill="#C0C0C0"/>
<rect x="166" y="534" width="3" height="1" fill="#C0C0C0"/>
<rect x="172" y="534" width="3" height="1" fill="#C0C0C0"/>
<rect x="178" y="534" width="3" height="1" fill="#C0C0C0"/>
<rect x="184" y="534" width="3" height="1" fill="#C0C0C0"/>
<rect x="190" y="534" width="3" height="1" fill="#C0C0C0"/>
<rect x="196" y="534" width="3" height="1" fill="#C0C0C0"/>
<rect x="202" y="534" width="3" height="1" fill="#C0C0C0"/>
<rect x="208" y="534" width="3" height="1" fill="#C0C0C0"/>
<rect x="214" y="534" width="3" height="1" fill="#C0C0C0"/>
<rect x="220" y="534" width="3" height="1" fill="#C0C0C0"/>
<rect x="226" y="534" width="3" height="1" fill="#C0C0C0"/>
<rect x="232" y="534" width="3" height="1" fill="#C0C0C0"/>
<rect x="238" y="534" width="3" height="1" fill="#C0C0C0"/>
<rect x="244" y="534" width="3" height="1" fill="#C0C0C0"/>
<rect x="250" y="534" width="3" height="1" fill="#C0C0C0"/>
<rect x="256" y="534" width="3" height="1" fill="#C0C0C0"/>
<rect x="262" y="534" width="3" height="1" fill="#C0C0C0"/>
<rect x="268" y="534" width="3" height="1" fill="#C0C0C0"/>
<rect x="274" y="534" width="3" height="1" fill="#C0C0C0"/>
<rect x="280" y="534" width="3" height="1" fill="#C0C0C0"/>
<rect x="286" y="534" width="3" height="1" fill="#C0C0C0"/>
<rect x="292" y="534" width="3" height="1" fill="#C0C0C0"/>
<rect x="298" y="534" width="3" height="1" fill="#C0C0C0"/>
<rect x="304" y="534" width="3" height="1" fill="#C0C0C0"/>
<rect x="310" y="534" width="3" height="1" fill="#C0C0C0"/>
<rect x="316" y="534" width="3" height="1" fill="#C0C0C0"/>
<rect x="322" y="534" width="3" height="1" fill="#C0C0C0"/>
<rect x="328" y="534" width="3" height="1" fill="#C0C0C0"/>
<rect x="334" y="534" width="3" height="1" fill="#C0C0C0"/>
<rect x="340" y="534" width="3" height="1" fill="#C0C0C0"/>
<rect x="346" y="534" width="3" height="1" fill="#C0C0C0"/>
<rect x="352" y="534" width="3" height="1" fill="#C0C0C0"/>
<rect x="358" y="534" width="3" height="1" fill="#C0C0C0"/>
<rect x="364" y="534" width="3" height="1" fill="#C0C0C0"/>
<rect x="370" y="534" width="3" height="1" fill="#C0C0C0"/>
<rect x="376" y="534" width="3" height="1" fill="#C0C0C0"/>
<rect x="382" y="534" width="3" height="1" fill="#C0C0C0"/>
<rect x="388" y="534" width="3" height="1" fill="#C0C0C0"/>
<rect x="394" y="534" width="3" height="1" fill="#C0C0C0"/>
<rect x="400" y="534" width="3" height="1" fill="#C0C0C0"/>
<rect x="406" y="534" width="3" height="1" fill="#C0C0C0"/>
<rect x="412" y="534" width="3" height="1" fill="#C0C0C0"/>
<rect x="418" y="534" width="3" height="1" fill="#C0C0C0"/>
<rect x="424" y="534" width="3" height="1" fill="#C0C0C0"/>
<rect x="430" y="534" width="3" height="1" fill="#C0C0C0"/>
<rect x="436" y="534" width="3" height="1" fill="#C0C0C0"/>
<rect x="442" y="534" width="3" height="1" fill="#C0C0C0"/>
<rect x="448" y="534" width="3" height="1" fill="#C0C0C0"/>
<rect x="454" y="534" width="3" height="1" fill="#C0C0C0"/>
<rect x="460" y="534" width="3" height="1" fill="#C0C0C0"/>
<rect x="466" y="534" width="3" height="1" fill="#C0C0C0"/>
<rect x="472" y="534" width="3" height="1" fill="#C0C0C0"/>
<rect x="478" y="534" width="3" height="1" fill="#C0C0C0"/>
<rect x="484" y="534" width="3" height="1" fill="#C0C0C0"/>
<rect x="490" y="534" width="3" height="1" fill="#C0C0C0"/>
<rect x="496" y="534" width="3" height="1" fill="#C0C0C0"/>
<rect x="502" y="534" width="3" height="1" fill="#C0C0C0"/>
<rect x="508" y="534" width="3" height="1" fill="#C0C0C0"/>
<rect x="514" y="534" width="3" height="1" fill="#C0C0C0"/>
<rect x="520" y="534" width="3" height="1" fill="#C0C0C0"/>
<rect x="526" y="534" width="3" height="1" fill="#C0C0C0"/>
<rect x="532" y="534" width="3" height="1" fill="#C0C0C0"/>
<rect x="538" y="534" width="3" height="1" fill="#C0C0C0"/>
<rect x="544" y="534" width="3" height="1" fill="#C0C0C0"/>
<rect x="550" y="534" width="3" height="1" fill="#C0C0C0"/>
<rect x="556" y="534" width="3" height="1" fill="#C0C0C0"/>
<rect x="562" y="534" width="3" height="1" fill="#C0C0C0"/>
<rect x="568" y="534" width="3" height="1" fill="#C0C0C0"/>
<rect x="574" y="534" width="3" height="1" fill="#C0C0C0"/>
<rect x="580" y="534" width="3" height="1" fill="#C0C0C0"/>
<rect x="586" y="534" width="3" height="1" fill="#C0C0C0"/>
<rect x="592" y="534" width="3" height="1" fill="#C0C0C0"/>
<rect x="598" y="534" width="3" height="1" fill="#C0C0C0"/>
<rect x="604" y="534" width="3" height="1" fill="#C0C0C0"/>
<rect x="610" y="534" width="3" height="1" fill="#C0C0C0"/>
<rect x="616" y="534" width="3" height="1" fill="#C0C0C0"/>
<rect x="622" y="534" width="3" height="1" fill="#C0C0C0"/>
<rect x="628" y="534" width="3" height="1" fill="#C0C0C0"/>
<rect x="634" y="534" width="3" height="1" fill="#C0C0C0"/>
<rect x="640" y="534" width="3" height="1" fill="#C0C0C0"/>
<rect x="646" y="534" width="3" height="1" fill="#C0C0C0"/>
<rect x="652" y="534" width="3" height="1" fill="#C0C0C0"/>
<rect x="658" y="534" width="3" height="1" fill="#C0C0C0"/>
<rect x="664" y="534" width="3" height="1" fill="#C0C0C0"/>
<rect x="670" y="534" width="3" height="1" fill="#C0C0C0"/>
<rect x="676" y="534" width="3" height="1" fill="#C0C0C0"/>
<rect x="682" y="534" width="3" height="1" fill="#C0C0C0"/>
<rect x="688" y="534" width="3" height="1" fill="#C0C0C0"/>
<rect x="694" y="534" width="3" height="1" fill="#C0C0C0"/>
<rect x="700" y="534" width="3" height="1" fill="#C0C0C0"/>
<rect x="706" y="534" width="3" height="1" fill="#C0C0C0"/>
<rect x="712" y="534" width="3" height="1" fill="#C0C0C0"/>
<rect x="718" y="534" width="3" height="1" fill="#C0C0C0"/>
<rect x="724" y="534" width="3" height="1" fill="#C0C0C0"/>
<rect x="730" y="534" width="3" height="1" fill="#C0C0C0"/>
<rect x="736" y="534" width="3" height="1" fill="#C0C0C0"/>
<rect x="742" y="534" width="3" height="1" fill="#C0C0C0"/>
<rect x="748" y="534" width="3" height="1" fill="#C0C0C0"/>
<rect x="754" y="534" width="3" height="1" fill="#C0C0C0"/>
<rect x="4" y="567" width="3" height="1" fill="#C0C0C0"/>
<rect x="10" y="567" width="3" height="1" fill="#C0C0C0"/>
<rect x="16" y="567" width="3" height="1" fill="#C0C0C0"/>
<rect x="22" y="567" width="3" height="1" fill="#C0C0C0"/>
<rect x="28" y="567" width="3" height="1" fill="#C0C0C0"/>
<rect x="34" y="567" width="3" height="1" fill="#C0C0C0"/>
<rect x="40" y="567" width="3" height="1" fill="#C0C0C0"/>
<rect x="46" y="567" width="3" height="1" fill="#C0C0C0"/>
<rect x="52" y="567" width="3" height="1" fill="#C0C0C0"/>
<rect x="58" y="567" width="3" height="1" fill="#C0C0C0"/>
<rect x="64" y="567" width="3" height="1" fill="#C0C0C0"/>
<rect x="70" y="567" width="3" height="1" fill="#C0C0C0"/>
<rect x="76" y="567" width="3" height="1" fill="#C0C0C0"/>
<rect x="82" y="567" width="3" height="1" fill="#C0C0C0"/>
<rect x="88" y="567" width="3" height="1" fill="#C0C0C0"/>
<rect x="94" y="567" width="3" height="1" fill="#C0C0C0"/>
<rect x="100" y="567" width="3" height="1" fill="#C0C0C0"/>
<rect x="106" y="567" width="3" height="1" fill="#C0C0C0"/>
<rect x="112" y="567" width="3" height="1" fill="#C0C0C0"/>
<rect x="118" y="567" width="3" height="1" fill="#C0C0C0"/>
<rect x="124" y="567" width="3" height="1" fill="#C0C0C0"/>
<rect x="130" y="567" width="3" height="1" fill="#C0C0C0"/>
<rect x="136" y="567" width="3" height="1" fill="#C0C0C0"/>
<rect x="142" y="567" width="3" height="1" fill="#C0C0C0"/>
<rect x="148" y="567" width="3" height="1" fill="#C0C0C0"/>
<rect x="154" y="567" width="3" height="1" fill="#C0C0C0"/>
<rect x="160" y="567" width="3" height="1" fill="#C0C0C0"/>
<rect x="166" y="567" width="3" height="1" fill="#C0C0C0"/>
<rect x="172" y="567" width="3" height="1" fill="#C0C0C0"/>
<rect x="178" y="567" width="3" height="1" fill="#C0C0C0"/>
<rect x="184" y="567" width="3" height="1" fill="#C0C0C0"/>
<rect x="190" y="567" width="3" height="1" fill="#C0C0C0"/>
<rect x="196" y="567" width="3" height="1" fill="#C0C0C0"/>
<rect x="202" y="567" width="3" height="1" fill="#C0C0C0"/>
<rect x="208" y="567" width="3" height="1" fill="#C0C0C0"/>
<rect x="214" y="567" width="3" height="1" fill="#C0C0C0"/>
<rect x="220" y="567" width="3" height="1" fill="#C0C0C0"/>
<rect x="226" y="567" width="3" height="1" fill="#C0C0C0"/>
<rect x="232" y="567" width="3" height="1" fill="#C0C0C0"/>
<rect x="238" y="567" width="3" height="1" fill="#C0C0C0"/>
<rect x="244" y="567" width="3" height="1" fill="#C0C0C0"/>
<rect x="250" y="567" width="3" height="1" fill="#C0C0C0"/>
<rect x="256" y="567" width="3" height="1" fill="#C0C0C0"/>
<rect x="262" y="567" width="3" height="1" fill="#C0C0C0"/>
<rect x="268" y="567" width="3" height="1" fill="#C0C0C0"/>
<rect x="274" y="567" width="3" height="1" fill="#C0C0C0"/>
<rect x="280" y="567" width="3" height="1" fill="#C0C0C0"/>
<rect x="286" y="567" width="3" height="1" fill="#C0C0C0"/>
<rect x="292" y="567" width="3" height="1" fill="#C0C0C0"/>
<rect x="298" y="567" width="3" height="1" fill="#C0C0C0"/>
<rect x="304" y="567" width="3" height="1" fill="#C0C0C0"/>
<rect x="310" y="567" width="3" height="1" fill="#C0C0C0"/>
<rect x="316" y="567" width="3" height="1" fill="#C0C0C0"/>
<rect x="322" y="567" width="3" height="1" fill="#C0C0C0"/>
<rect x="328" y="567" width="3" height="1" fill="#C0C0C0"/>
<rect x="334" y="567" width="3" height="1" fill="#C0C0C0"/>
<rect x="340" y="567" width="3" height="1" fill="#C0C0C0"/>
<rect x="346" y="567" width="3" height="1" fill="#C0C0C0"/>
<rect x="352" y="567" width="3" height="1" fill="#C0C0C0"/>
<rect x="358" y="567" width="3" height="1" fill="#C0C0C0"/>
<rect x="364" y="567" width="3" height="1" fill="#C0C0C0"/>
<rect x="370" y="567" width="3" height="1" fill="#C0C0C0"/>
<rect x="376" y="567" width="3" height="1" fill="#C0C0C0"/>
<rect x="382" y="567" width="3" height="1" fill="#C0C0C0"/>
<rect x="388" y="567" width="3" height="1" fill="#C0C0C0"/>
<rect x="394" y="567" width="3" height="1" fill="#C0C0C0"/>
<rect x="400" y="567" width="3" height="1" fill="#C0C0C0"/>
<rect x="406" y="567" width="3" height="1" fill="#C0C0C0"/>
<rect x="412" y="567" width="3" height="1" fill="#C0C0C0"/>
<rect x="418" y="567" width="3" height="1" fill="#C0C0C0"/>
<rect x="424" y="567" width="3" height="1" fill="#C0C0C0"/>
<rect x="430" y="567" width="3" height="1" fill="#C0C0C0"/>
<rect x="436" y="567" width="3" height="1" fill="#C0C0C0"/>
<rect x="442" y="567" width="3" height="1" fill="#C0C0C0"/>
<rect x="448" y="567" width="3" height="1" fill="#C0C0C0"/>
<rect x="454" y="567" width="3" height="1" fill="#C0C0C0"/>
<rect x="460" y="567" width="3" height="1" fill="#C0C0C0"/>
<rect x="466" y="567" width="3" height="1" fill="#C0C0C0"/>
<rect x="472" y="567" width="3" height="1" fill="#C0C0C0"/>
<rect x="478" y="567" width="3" height="1" fill="#C0C0C0"/>
<rect x="484" y="567" width="3" height="1" fill="#C0C0C0"/>
<rect x="490" y="567" width="3" height="1" fill="#C0C0C0"/>
<rect x="496" y="567" width="3" height="1" fill="#C0C0C0"/>
<rect x="502" y="567" width="3" height="1" fill="#C0C0C0"/>
<rect x="508" y="567" width="3" height="1" fill="#C0C0C0"/>
<rect x="514" y="567" width="3" height="1" fill="#C0C0C0"/>
<rect x="520" y="567" width="3" height="1" fill="#C0C0C0"/>
<rect x="526" y="567" width="3" height="1" fill="#C0C0C0"/>
<rect x="532" y="567" width="3" height="1" fill="#C0C0C0"/>
<rect x="538" y="567" width="3" height="1" fill="#C0C0C0"/>
<rect x="544" y="567" width="3" height="1" fill="#C0C0C0"/>
<rect x="550" y="567" width="3" height="1" fill="#C0C0C0"/>
<rect x="556" y="567" width="3" height="1" fill="#C0C0C0"/>
<rect x="562" y="567" width="3" height="1" fill="#C0C0C0"/>
<rect x="568" y="567" width="3" height="1" fill="#C0C0C0"/>
<rect x="574" y="567" width="3" height="1" fill="#C0C0C0"/>
<rect x="580" y="567" width="3" height="1" fill="#C0C0C0"/>
<rect x="586" y="567" width="3" height="1" fill="#C0C0C0"/>
<rect x="592" y="567" width="3" height="1" fill="#C0C0C0"/>
<rect x="598" y="567" width="3" height="1" fill="#C0C0C0"/>
<rect x="604" y="567" width="3" height="1" fill="#C0C0C0"/>
<rect x="610" y="567" width="3" height="1" fill="#C0C0C0"/>
<rect x="616" y="567" width="3" height="1" fill="#C0C0C0"/>
<rect x="622" y="567" width="3" height="1" fill="#C0C0C0"/>
<rect x="628" y="567" width="3" height="1" fill="#C0C0C0"/>
<rect x="634" y="567" width="3" height="1" fill="#C0C0C0"/>
<rect x="640" y="567" width="3" height="1" fill="#C0C0C0"/>
<rect x="646" y="567" width="3" height="1" fill="#C0C0C0"/>
<rect x="652" y="567" width="3" height="1" fill="#C0C0C0"/>
<rect x="658" y="567" width="3" height="1" fill="#C0C0C0"/>
<rect x="664" y="567" width="3" height="1" fill="#C0C0C0"/>
<rect x="670" y="567" width="3" height="1" fill="#C0C0C0"/>
<rect x="676" y="567" width="3" height="1" fill="#C0C0C0"/>
<rect x="682" y="567" width="3" height="1" fill="#C0C0C0"/>
<rect x="688" y="567" width="3" height="1" fill="#C0C0C0"/>
<rect x="694" y="567" width="3" height="1" fill="#C0C0C0"/>
<rect x="700" y="567" width="3" height="1" fill="#C0C0C0"/>
<rect x="706" y="567" width="3" height="1" fill="#C0C0C0"/>
<rect x="712" y="567" width="3" height="1" fill="#C0C0C0"/>
<rect x="718" y="567" width="3" height="1" fill="#C0C0C0"/>
<rect x="724" y="567" width="3" height="1" fill="#C0C0C0"/>
<rect x="730" y="567" width="3" height="1" fill="#C0C0C0"/>
<rect x="736" y="567" width="3" height="1" fill="#C0C0C0"/>
<rect x="742" y="567" width="3" height="1" fill="#C0C0C0"/>
<rect x="748" y="567" width="3" height="1" fill="#C0C0C0"/>
<rect x="754" y="567" width="3" height="1" fill="#C0C0C0"/>
<text class="t" x="7.1" y="535" fill="#191970" stroke="#191970" textLength="122" lengthAdjust="spacingAndGlyphs">Stoch(5,3,3) 33.3333 23.8889</text>
<path d="M363 528h2v1h-2zM51 529h2v1h-2zM235 529h1v1h-1zM362 529h1v1h-1zM365 529h2v1h-2zM49 530h2v1h-2zM53 530h3v1h-3zM234 530h1v1h-1zM236 530h1v1h-1zM360 530h2v1h-2zM367 530h2v1h-2zM47 531h2v1h-2zM56 531h2v1h-2zM232 531h2v1h-2zM237 531h1v1h-1zM359 531h1v1h-1zM369 531h2v1h-2zM34 532h6v1h-6zM45 532h2v1h-2zM58 532h4v1h-4zM231 532h1v1h-1zM238 532h1v1h-1zM358 532h1v1h-1zM371 532h1v1h-1zM30 533h4v1h-4zM40 533h5v1h-5zM62 533h4v1h-4zM230 533h1v1h-1zM239 533h1v1h-1zM356 533h2v1h-2zM372 533h1v1h-1zM27 534h3v1h-3zM66 534h3v1h-3zM228 534h2v1h-2zM240 534h1v1h-1zM355 534h1v1h-1zM373 534h1v1h-1zM491 534h10v1h-10zM25 535h2v1h-2zM69 535h2v1h-2zM115 535h2v1h-2zM227 535h1v1h-1zM241 535h1v1h-1zM355 535h1v1h-1zM373 535h1v1h-1zM489 535h2v1h-2zM501 535h2v1h-2zM24 536h1v1h-1zM71 536h2v1h-2zM114 536h1v1h-1zM117 536h3v1h-3zM226 536h1v1h-1zM242 536h1v1h-1zM354 536h1v1h-1zM374 536h1v1h-1zM488 536h1v1h-1zM503 536h2v1h-2zM22 537h2v1h-2zM73 537h2v1h-2zM113 537h1v1h-1zM120 537h2v1h-2zM226 537h1v1h-1zM243 537h1v1h-1zM354 537h1v1h-1zM375 537h1v1h-1zM486 537h2v1h-2zM505 537h2v1h-2zM20 538h2v1h-2zM75 538h1v1h-1zM113 538h1v1h-1zM122 538h3v1h-3zM225 538h1v1h-1zM244 538h2v1h-2zM353 538h1v1h-1zM376 538h1v1h-1zM403 538h1v1h-1zM484 538h2v1h-2zM507 538h1v1h-1zM603 538h1v1h-1zM19 539h1v1h-1zM76 539h1v1h-1zM112 539h1v1h-1zM125 539h2v1h-2zM224 539h1v1h-1zM246 539h2v1h-2zM353 539h1v1h-1zM377 539h1v1h-1zM401 539h3v1h-3zM483 539h1v1h-1zM508 539h2v1h-2zM601 539h2v1h-2zM604 539h1v1h-1zM18 540h1v1h-1zM77 540h1v1h-1zM111 540h1v1h-1zM127 540h2v1h-2zM223 540h1v1h-1zM248 540h1v1h-1zM352 540h1v1h-1zM377 540h1v1h-1zM399 540h2v1h-2zM404 540h1v1h-1zM482 540h1v1h-1zM510 540h1v1h-1zM599 540h2v1h-2zM605 540h1v1h-1zM17 541h1v1h-1zM78 541h2v1h-2zM110 541h1v1h-1zM129 541h2v1h-2zM223 541h1v1h-1zM249 541h2v1h-2zM352 541h1v1h-1zM378 541h1v1h-1zM397 541h2v1h-2zM404 541h1v1h-1zM480 541h2v1h-2zM511 541h1v1h-1zM597 541h2v1h-2zM606 541h2v1h-2zM16 542h1v1h-1zM80 542h1v1h-1zM109 542h1v1h-1zM131 542h1v1h-1zM222 542h1v1h-1zM251 542h1v1h-1zM352 542h1v1h-1zM379 542h2v1h-2zM395 542h2v1h-2zM405 542h1v1h-1zM479 542h1v1h-1zM512 542h2v1h-2zM595 542h2v1h-2zM608 542h1v1h-1zM15 543h1v1h-1zM81 543h1v1h-1zM109 543h1v1h-1zM131 543h1v1h-1zM221 543h1v1h-1zM252 543h1v1h-1zM351 543h1v1h-1zM381 543h2v1h-2zM393 543h2v1h-2zM405 543h1v1h-1zM478 543h1v1h-1zM514 543h1v1h-1zM594 543h1v1h-1zM609 543h1v1h-1zM15 544h1v1h-1zM82 544h1v1h-1zM108 544h1v1h-1zM132 544h1v1h-1zM220 544h1v1h-1zM252 544h1v1h-1zM351 544h1v1h-1zM383 544h2v1h-2zM391 544h2v1h-2zM406 544h1v1h-1zM476 544h2v1h-2zM515 544h1v1h-1zM594 544h1v1h-1zM610 544h1v1h-1zM14 545h1v1h-1zM83 545h1v1h-1zM107 545h1v1h-1zM132 545h1v1h-1zM220 545h1v1h-1zM253 545h1v1h-1zM350 545h1v1h-1zM385 545h2v1h-2zM389 545h2v1h-2zM406 545h1v1h-1zM475 545h1v1h-1zM516 545h1v1h-1zM593 545h1v1h-1zM611 545h1v1h-1zM13 546h1v1h-1zM84 546h1v1h-1zM105 546h2v1h-2zM133 546h1v1h-1zM219 546h1v1h-1zM253 546h1v1h-1zM275 546h17v1h-17zM350 546h1v1h-1zM387 546h2v1h-2zM407 546h1v1h-1zM474 546h1v1h-1zM517 546h1v1h-1zM592 546h1v1h-1zM612 546h1v1h-1zM12 547h1v1h-1zM85 547h1v1h-1zM104 547h1v1h-1zM133 547h1v1h-1zM218 547h1v1h-1zM254 547h1v1h-1zM274 547h1v1h-1zM292 547h2v1h-2zM350 547h1v1h-1zM407 547h1v1h-1zM474 547h1v1h-1zM518 547h2v1h-2zM591 547h1v1h-1zM613 547h1v1h-1zM11 548h1v1h-1zM86 548h1v1h-1zM102 548h2v1h-2zM134 548h1v1h-1zM218 548h1v1h-1zM255 548h1v1h-1zM273 548h1v1h-1zM294 548h1v1h-1zM349 548h1v1h-1zM408 548h1v1h-1zM473 548h1v1h-1zM520 548h1v1h-1zM591 548h1v1h-1zM614 548h1v1h-1zM10 549h1v1h-1zM87 549h1v1h-1zM100 549h2v1h-2zM134 549h1v1h-1zM217 549h1v1h-1zM255 549h1v1h-1zM272 549h1v1h-1zM295 549h1v1h-1zM349 549h1v1h-1zM408 549h1v1h-1zM473 549h1v1h-1zM521 549h1v1h-1zM590 549h1v1h-1zM615 549h1v1h-1zM10 550h1v1h-1zM87 550h1v1h-1zM99 550h1v1h-1zM135 550h1v1h-1zM217 550h1v1h-1zM256 550h1v1h-1zM271 550h1v1h-1zM296 550h2v1h-2zM348 550h1v1h-1zM409 550h1v1h-1zM435 550h1v1h-1zM472 550h1v1h-1zM522 550h1v1h-1zM589 550h1v1h-1zM616 550h1v1h-1zM9 551h1v1h-1zM88 551h1v1h-1zM97 551h2v1h-2zM135 551h1v1h-1zM216 551h1v1h-1zM257 551h1v1h-1zM270 551h1v1h-1zM298 551h1v1h-1zM348 551h1v1h-1zM409 551h1v1h-1zM433 551h2v1h-2zM436 551h1v1h-1zM471 551h1v1h-1zM523 551h1v1h-1zM588 551h1v1h-1zM617 551h1v1h-1zM9 552h1v1h-1zM89 552h1v1h-1zM95 552h2v1h-2zM136 552h1v1h-1zM216 552h1v1h-1zM257 552h1v1h-1zM269 552h1v1h-1zM299 552h1v1h-1zM347 552h1v1h-1zM410 552h1v1h-1zM418 552h4v1h-4zM431 552h2v1h-2zM437 552h1v1h-1zM471 552h1v1h-1zM524 552h2v1h-2zM547 552h2v1h-2zM588 552h1v1h-1zM618 552h1v1h-1zM674 552h4v1h-4zM8 553h1v1h-1zM90 553h1v1h-1zM93 553h2v1h-2zM136 553h1v1h-1zM215 553h1v1h-1zM258 553h1v1h-1zM268 553h1v1h-1zM300 553h1v1h-1zM347 553h1v1h-1zM410 553h1v1h-1zM414 553h4v1h-4zM422 553h4v1h-4zM429 553h2v1h-2zM438 553h1v1h-1zM470 553h1v1h-1zM526 553h1v1h-1zM545 553h2v1h-2zM549 553h2v1h-2zM587 553h1v1h-1zM619 553h1v1h-1zM670 553h4v1h-4zM678 553h4v1h-4zM8 554h1v1h-1zM91 554h2v1h-2zM137 554h1v1h-1zM215 554h1v1h-1zM258 554h1v1h-1zM264 554h4v1h-4zM301 554h1v1h-1zM346 554h1v1h-1zM411 554h3v1h-3zM426 554h3v1h-3zM439 554h1v1h-1zM469 554h1v1h-1zM527 554h1v1h-1zM543 554h2v1h-2zM551 554h2v1h-2zM586 554h1v1h-1zM620 554h1v1h-1zM667 554h3v1h-3zM682 554h2v1h-2zM7 555h1v1h-1zM137 555h1v1h-1zM214 555h1v1h-1zM259 555h5v1h-5zM302 555h1v1h-1zM346 555h1v1h-1zM439 555h1v1h-1zM469 555h1v1h-1zM528 555h2v1h-2zM541 555h2v1h-2zM553 555h2v1h-2zM585 555h1v1h-1zM621 555h1v1h-1zM666 555h1v1h-1zM684 555h1v1h-1zM7 556h1v1h-1zM138 556h1v1h-1zM214 556h1v1h-1zM303 556h1v1h-1zM345 556h1v1h-1zM440 556h1v1h-1zM468 556h1v1h-1zM530 556h1v1h-1zM536 556h5v1h-5zM555 556h1v1h-1zM584 556h1v1h-1zM621 556h1v1h-1zM666 556h1v1h-1zM685 556h1v1h-1zM706 556h3v1h-3zM6 557h1v1h-1zM138 557h1v1h-1zM213 557h1v1h-1zM304 557h1v1h-1zM344 557h1v1h-1zM441 557h1v1h-1zM468 557h1v1h-1zM531 557h5v1h-5zM556 557h1v1h-1zM583 557h1v1h-1zM622 557h1v1h-1zM665 557h1v1h-1zM685 557h1v1h-1zM702 557h4v1h-4zM709 557h3v1h-3zM6 558h1v1h-1zM139 558h1v1h-1zM213 558h1v1h-1zM305 558h1v1h-1zM344 558h1v1h-1zM442 558h1v1h-1zM467 558h1v1h-1zM556 558h1v1h-1zM583 558h1v1h-1zM623 558h1v1h-1zM664 558h1v1h-1zM686 558h1v1h-1zM699 558h3v1h-3zM712 558h2v1h-2zM5 559h1v1h-1zM140 559h1v1h-1zM212 559h1v1h-1zM306 559h1v1h-1zM343 559h1v1h-1zM443 559h1v1h-1zM465 559h2v1h-2zM557 559h1v1h-1zM582 559h1v1h-1zM624 559h1v1h-1zM664 559h1v1h-1zM687 559h1v1h-1zM698 559h1v1h-1zM714 559h2v1h-2zM5 560h1v1h-1zM140 560h1v1h-1zM212 560h1v1h-1zM307 560h1v1h-1zM342 560h1v1h-1zM444 560h1v1h-1zM463 560h2v1h-2zM557 560h1v1h-1zM581 560h1v1h-1zM625 560h1v1h-1zM663 560h1v1h-1zM688 560h1v1h-1zM696 560h2v1h-2zM716 560h1v1h-1zM4 561h1v1h-1zM141 561h1v1h-1zM211 561h1v1h-1zM308 561h1v1h-1zM342 561h1v1h-1zM445 561h1v1h-1zM461 561h2v1h-2zM558 561h1v1h-1zM580 561h1v1h-1zM625 561h1v1h-1zM662 561h1v1h-1zM689 561h1v1h-1zM695 561h1v1h-1zM716 561h1v1h-1zM739 561h1v1h-1zM4 562h1v1h-1zM141 562h1v1h-1zM209 562h2v1h-2zM309 562h1v1h-1zM341 562h1v1h-1zM446 562h2v1h-2zM459 562h2v1h-2zM559 562h1v1h-1zM579 562h1v1h-1zM626 562h1v1h-1zM662 562h1v1h-1zM689 562h1v1h-1zM694 562h1v1h-1zM717 562h1v1h-1zM737 562h2v1h-2zM3 563h1v1h-1zM142 563h1v1h-1zM207 563h2v1h-2zM309 563h1v1h-1zM340 563h1v1h-1zM448 563h1v1h-1zM457 563h2v1h-2zM559 563h1v1h-1zM578 563h1v1h-1zM627 563h5v1h-5zM661 563h1v1h-1zM690 563h1v1h-1zM692 563h2v1h-2zM718 563h1v1h-1zM736 563h1v1h-1zM3 564h1v1h-1zM143 564h1v1h-1zM205 564h2v1h-2zM310 564h1v1h-1zM340 564h1v1h-1zM449 564h1v1h-1zM455 564h2v1h-2zM560 564h1v1h-1zM577 564h1v1h-1zM632 564h6v1h-6zM660 564h1v1h-1zM691 564h1v1h-1zM718 564h1v1h-1zM734 564h2v1h-2zM143 565h1v1h-1zM194 565h11v1h-11zM311 565h1v1h-1zM339 565h1v1h-1zM450 565h1v1h-1zM453 565h2v1h-2zM561 565h1v1h-1zM577 565h1v1h-1zM638 565h4v1h-4zM660 565h1v1h-1zM719 565h1v1h-1zM732 565h2v1h-2zM144 566h1v1h-1zM192 566h2v1h-2zM312 566h1v1h-1zM338 566h1v1h-1zM451 566h2v1h-2zM561 566h1v1h-1zM576 566h1v1h-1zM642 566h4v1h-4zM658 566h2v1h-2zM720 566h1v1h-1zM731 566h1v1h-1zM145 567h1v1h-1zM189 567h3v1h-3zM313 567h1v1h-1zM337 567h1v1h-1zM562 567h1v1h-1zM575 567h1v1h-1zM646 567h4v1h-4zM654 567h4v1h-4zM720 567h1v1h-1zM729 567h2v1h-2zM145 568h1v1h-1zM187 568h2v1h-2zM313 568h1v1h-1zM336 568h1v1h-1zM562 568h1v1h-1zM574 568h1v1h-1zM650 568h4v1h-4zM721 568h1v1h-1zM728 568h1v1h-1zM146 569h1v1h-1zM185 569h2v1h-2zM314 569h1v1h-1zM335 569h1v1h-1zM563 569h2v1h-2zM573 569h1v1h-1zM722 569h1v1h-1zM726 569h2v1h-2zM146 570h1v1h-1zM183 570h2v1h-2zM315 570h1v1h-1zM335 570h1v1h-1zM565 570h3v1h-3zM573 570h1v1h-1zM722 570h1v1h-1zM724 570h2v1h-2zM147 571h3v1h-3zM181 571h2v1h-2zM316 571h2v1h-2zM334 571h1v1h-1zM568 571h2v1h-2zM572 571h1v1h-1zM723 571h1v1h-1zM150 572h4v1h-4zM168 572h13v1h-13zM318 572h2v1h-2zM333 572h1v1h-1zM570 572h2v1h-2zM154 573h14v1h-14zM320 573h1v1h-1zM332 573h1v1h-1zM321 574h2v1h-2zM328 574h4v1h-4zM323 575h5v1h-5z" fill="#20B2AA"/>
<path d="M50 531h2v1h-2zM55 531h3v1h-3zM61 531h3v1h-3zM67 531h2v1h-2zM371 531h2v1h-2zM49 532h1v1h-1zM69 532h1v1h-1zM373 532h1v1h-1zM43 533h3v1h-3zM73 533h1v1h-1zM377 533h1v1h-1zM38 534h2v1h-2zM74 534h2v1h-2zM244 534h2v1h-2zM378 534h2v1h-2zM37 535h1v1h-1zM240 535h1v1h-1zM246 535h1v1h-1zM366 535h2v1h-2zM504 535h1v1h-1zM508 535h1v1h-1zM33 536h1v1h-1zM79 536h1v1h-1zM238 536h2v1h-2zM250 536h2v1h-2zM365 536h1v1h-1zM498 536h1v1h-1zM502 536h2v1h-2zM509 536h2v1h-2zM32 537h1v1h-1zM80 537h1v1h-1zM252 537h1v1h-1zM383 537h1v1h-1zM496 537h2v1h-2zM31 538h1v1h-1zM81 538h1v1h-1zM128 538h2v1h-2zM234 538h1v1h-1zM384 538h2v1h-2zM514 538h1v1h-1zM123 539h1v1h-1zM127 539h1v1h-1zM233 539h1v1h-1zM491 539h2v1h-2zM515 539h1v1h-1zM27 540h1v1h-1zM121 540h2v1h-2zM133 540h1v1h-1zM233 540h1v1h-1zM362 540h1v1h-1zM490 540h1v1h-1zM516 540h1v1h-1zM26 541h1v1h-1zM85 541h1v1h-1zM134 541h1v1h-1zM255 541h1v1h-1zM361 541h1v1h-1zM389 541h3v1h-3zM25 542h1v1h-1zM86 542h2v1h-2zM117 542h1v1h-1zM135 542h1v1h-1zM256 542h1v1h-1zM361 542h1v1h-1zM401 542h3v1h-3zM520 542h1v1h-1zM115 543h2v1h-2zM257 543h1v1h-1zM395 543h3v1h-3zM407 543h3v1h-3zM521 543h2v1h-2zM607 543h3v1h-3zM613 543h3v1h-3zM229 544h1v1h-1zM487 544h1v1h-1zM603 544h1v1h-1zM229 545h1v1h-1zM413 545h2v1h-2zM486 545h1v1h-1zM602 545h1v1h-1zM619 545h1v1h-1zM22 546h1v1h-1zM91 546h2v1h-2zM139 546h1v1h-1zM228 546h1v1h-1zM261 546h1v1h-1zM291 546h3v1h-3zM358 546h1v1h-1zM415 546h1v1h-1zM485 546h1v1h-1zM601 546h1v1h-1zM620 546h1v1h-1zM21 547h1v1h-1zM93 547h1v1h-1zM110 547h2v1h-2zM140 547h1v1h-1zM262 547h1v1h-1zM297 547h1v1h-1zM357 547h1v1h-1zM526 547h2v1h-2zM621 547h1v1h-1zM21 548h1v1h-1zM109 548h1v1h-1zM140 548h1v1h-1zM263 548h1v1h-1zM285 548h3v1h-3zM298 548h2v1h-2zM357 548h1v1h-1zM419 548h1v1h-1zM528 548h1v1h-1zM97 549h2v1h-2zM420 549h2v1h-2zM99 550h1v1h-1zM103 550h3v1h-3zM225 550h1v1h-1zM280 550h2v1h-2zM303 550h1v1h-1zM481 550h1v1h-1zM598 550h1v1h-1zM224 551h1v1h-1zM267 551h3v1h-3zM279 551h1v1h-1zM304 551h1v1h-1zM480 551h1v1h-1zM532 551h1v1h-1zM597 551h1v1h-1zM624 551h1v1h-1zM18 552h1v1h-1zM143 552h1v1h-1zM223 552h1v1h-1zM273 552h3v1h-3zM305 552h1v1h-1zM354 552h1v1h-1zM425 552h2v1h-2zM432 552h2v1h-2zM437 552h1v1h-1zM479 552h1v1h-1zM533 552h2v1h-2zM596 552h1v1h-1zM625 552h1v1h-1zM17 553h1v1h-1zM144 553h1v1h-1zM354 553h1v1h-1zM427 553h1v1h-1zM431 553h1v1h-1zM438 553h2v1h-2zM626 553h1v1h-1zM684 553h1v1h-1zM16 554h1v1h-1zM145 554h1v1h-1zM353 554h1v1h-1zM443 554h2v1h-2zM538 554h1v1h-1zM685 554h2v1h-2zM309 555h1v1h-1zM445 555h1v1h-1zM475 555h1v1h-1zM539 555h2v1h-2zM544 555h3v1h-3zM550 555h3v1h-3zM556 555h1v1h-1zM679 555h2v1h-2zM220 556h1v1h-1zM310 556h1v1h-1zM474 556h1v1h-1zM557 556h2v1h-2zM593 556h1v1h-1zM630 556h1v1h-1zM678 556h1v1h-1zM690 556h3v1h-3zM219 557h1v1h-1zM311 557h1v1h-1zM449 557h2v1h-2zM473 557h1v1h-1zM592 557h1v1h-1zM631 557h1v1h-1zM696 557h2v1h-2zM14 558h1v1h-1zM148 558h1v1h-1zM218 558h1v1h-1zM351 558h1v1h-1zM451 558h1v1h-1zM562 558h1v1h-1zM591 558h1v1h-1zM632 558h1v1h-1zM674 558h1v1h-1zM698 558h1v1h-1zM702 558h2v1h-2zM714 558h3v1h-3zM13 559h1v1h-1zM149 559h1v1h-1zM350 559h1v1h-1zM563 559h1v1h-1zM672 559h2v1h-2zM704 559h1v1h-1zM708 559h3v1h-3zM12 560h1v1h-1zM149 560h1v1h-1zM349 560h1v1h-1zM455 560h2v1h-2zM469 560h1v1h-1zM564 560h1v1h-1zM720 560h1v1h-1zM214 561h1v1h-1zM315 561h1v1h-1zM457 561h1v1h-1zM468 561h1v1h-1zM636 561h2v1h-2zM721 561h2v1h-2zM213 562h1v1h-1zM316 562h1v1h-1zM461 562h3v1h-3zM467 562h1v1h-1zM588 562h1v1h-1zM638 562h1v1h-1zM668 562h1v1h-1zM212 563h1v1h-1zM317 563h1v1h-1zM568 563h1v1h-1zM587 563h1v1h-1zM667 563h1v1h-1zM726 563h2v1h-2zM9 564h1v1h-1zM153 564h1v1h-1zM347 564h1v1h-1zM569 564h1v1h-1zM586 564h1v1h-1zM642 564h1v1h-1zM666 564h1v1h-1zM728 564h1v1h-1zM8 565h1v1h-1zM153 565h1v1h-1zM206 565h3v1h-3zM346 565h1v1h-1zM570 565h1v1h-1zM643 565h2v1h-2zM732 565h3v1h-3zM7 566h1v1h-1zM154 566h1v1h-1zM202 566h1v1h-1zM321 566h1v1h-1zM345 566h1v1h-1zM582 566h1v1h-1zM648 566h3v1h-3zM654 566h2v1h-2zM661 566h2v1h-2zM738 566h2v1h-2zM200 567h2v1h-2zM322 567h1v1h-1zM574 567h3v1h-3zM580 567h2v1h-2zM656 567h1v1h-1zM660 567h1v1h-1zM194 568h3v1h-3zM323 568h1v1h-1zM158 569h1v1h-1zM341 569h1v1h-1zM4 570h1v1h-1zM159 570h1v1h-1zM189 570h2v1h-2zM327 570h1v1h-1zM340 570h1v1h-1zM3 571h1v1h-1zM160 571h1v1h-1zM188 571h1v1h-1zM328 571h1v1h-1zM339 571h1v1h-1zM182 572h3v1h-3zM329 572h1v1h-1zM334 572h2v1h-2zM164 573h3v1h-3zM170 573h3v1h-3zM176 573h3v1h-3zM333 573h1v1h-1z" fill="#FF0000"/>
<g>
<text class="t" x="766.0" y="8" fill="#191970" stroke="#191970" textLength="23.3" lengthAdjust="spacingAndGlyphs">97.50</text>
<text class="t" x="766.0" y="53" fill="#191970" stroke="#191970" textLength="23.3" lengthAdjust="spacingAndGlyphs">97.35</text>
<text class="t" x="766.0" y="99" fill="#191970" stroke="#191970" textLength="23.3" lengthAdjust="spacingAndGlyphs">97.20</text>
<text class="t" x="766.0" y="144" fill="#191970" stroke="#191970" textLength="23.3" lengthAdjust="spacingAndGlyphs">97.05</text>
<text class="t" x="766.0" y="190" fill="#191970" stroke="#191970" textLength="23.3" lengthAdjust="spacingAndGlyphs">96.90</text>
<text class="t" x="766.0" y="235" fill="#191970" stroke="#191970" textLength="23.3" lengthAdjust="spacingAndGlyphs">96.75</text>
<text class="t" x="766.0" y="281" fill="#191970" stroke="#191970" textLength="23.3" lengthAdjust="spacingAndGlyphs">96.60</text>
<text class="t" x="766.0" y="326" fill="#191970" stroke="#191970" textLength="23.3" lengthAdjust="spacingAndGlyphs">96.45</text>
<text class="t" x="766.0" y="372" fill="#191970" stroke="#191970" textLength="23.3" lengthAdjust="spacingAndGlyphs">96.30</text>
<text class="t" x="766.0" y="417" fill="#191970" stroke="#191970" textLength="23.3" lengthAdjust="spacingAndGlyphs">96.15</text>
<text class="t" x="766.0" y="463" fill="#191970" stroke="#191970" textLength="23.3" lengthAdjust="spacingAndGlyphs">96.00</text>
<text class="t" x="766.0" y="508" fill="#191970" stroke="#191970" textLength="23.3" lengthAdjust="spacingAndGlyphs">95.85</text>
<rect x="762" y="86" width="31" height="11" fill="#228B22"/>
<text class="t" x="766.0" y="95" fill="#FFFFFF" stroke="#FFFFFF" textLength="23.3" lengthAdjust="spacingAndGlyphs">97.21</text>
<rect x="762" y="171" width="31" height="11" fill="#228B22"/>
<text class="t" x="766.0" y="180" fill="#FFFFFF" stroke="#FFFFFF" textLength="23.3" lengthAdjust="spacingAndGlyphs">96.93</text>
<rect x="762" y="255" width="31" height="11" fill="#228B22"/>
<text class="t" x="766.0" y="264" fill="#FFFFFF" stroke="#FFFFFF" textLength="23.3" lengthAdjust="spacingAndGlyphs">96.65</text>
<rect x="762" y="309" width="31" height="11" fill="#228B22"/>
<text class="t" x="766.0" y="318" fill="#FFFFFF" stroke="#FFFFFF" textLength="23.3" lengthAdjust="spacingAndGlyphs">96.47</text>
<rect x="762" y="344" width="31" height="11" fill="#228B22"/>
<text class="t" x="766.0" y="353" fill="#FFFFFF" stroke="#FFFFFF" textLength="23.3" lengthAdjust="spacingAndGlyphs">96.36</text>
<rect x="762" y="388" width="31" height="11" fill="#2F4F4F"/>
<text class="t" x="766.0" y="397" fill="#FFFFFF" stroke="#FFFFFF" textLength="23.3" lengthAdjust="spacingAndGlyphs">96.21</text>
<rect x="762" y="453" width="31" height="11" fill="#2F4F4F"/>
<text class="t" x="766.0" y="462" fill="#FFFFFF" stroke="#FFFFFF" textLength="23.3" lengthAdjust="spacingAndGlyphs">96.00</text>
<rect x="762" y="372" width="31" height="11" fill="#191970"/>
<text class="t" x="766.0" y="381" fill="#FFFFFF" stroke="#FFFFFF" textLength="23.3" lengthAdjust="spacingAndGlyphs">96.27</text>
<rect x="761" y="524" width="2" height="1" fill="#191970"/>
<rect x="761" y="534" width="2" height="1" fill="#191970"/>
<rect x="761" y="567" width="2" height="1" fill="#191970"/>
<rect x="761" y="578" width="2" height="1" fill="#191970"/>
<text class="t" x="764.5" y="533" fill="#191970" stroke="#191970" textLength="14.5" lengthAdjust="spacingAndGlyphs">100</text>
<text class="t" x="763.6" y="538" fill="#191970" stroke="#191970" textLength="9.6" lengthAdjust="spacingAndGlyphs">80</text>
<text class="t" x="763.6" y="571" fill="#191970" stroke="#191970" textLength="9.6" lengthAdjust="spacingAndGlyphs">20</text>
<text class="t" x="763.6" y="577" fill="#191970" stroke="#191970" textLength="4.8" lengthAdjust="spacingAndGlyphs">0</text>
<text class="t" x="7.3" y="14" fill="#191970" stroke="#191970" textLength="157" lengthAdjust="spacingAndGlyphs">UsDollar,H1&#160;&#160;96.32 96.33 96.25 96.27</text>
<rect x="3" y="580" width="1" height="3" fill="#191970"/>
<text class="t" x="1.8" y="592" fill="#191970" stroke="#191970" textLength="52.2" lengthAdjust="spacingAndGlyphs">18 Feb 2019</text>
<rect x="67" y="580" width="1" height="3" fill="#191970"/>
<text class="t" x="65.8" y="592" fill="#191970" stroke="#191970" textLength="55.2" lengthAdjust="spacingAndGlyphs">19 Feb 07:00</text>
<rect x="131" y="580" width="1" height="3" fill="#191970"/>
<text class="t" x="129.8" y="592" fill="#191970" stroke="#191970" textLength="55.2" lengthAdjust="spacingAndGlyphs">19 Feb 15:00</text>
<rect x="195" y="580" width="1" height="3" fill="#191970"/>
<text class="t" x="193.8" y="592" fill="#191970" stroke="#191970" textLength="55.2" lengthAdjust="spacingAndGlyphs">20 Feb 03:00</text>
<rect x="259" y="580" width="1" height="3" fill="#191970"/>
<text class="t" x="257.8" y="592" fill="#191970" stroke="#191970" textLength="55.2" lengthAdjust="spacingAndGlyphs">20 Feb 11:00</text>
<rect x="323" y="580" width="1" height="3" fill="#191970"/>
<text class="t" x="321.8" y="592" fill="#191970" stroke="#191970" textLength="55.2" lengthAdjust="spacingAndGlyphs">20 Feb 19:00</text>
<rect x="387" y="580" width="1" height="3" fill="#191970"/>
<text class="t" x="385.8" y="592" fill="#191970" stroke="#191970" textLength="55.2" lengthAdjust="spacingAndGlyphs">21 Feb 07:00</text>
<rect x="451" y="580" width="1" height="3" fill="#191970"/>
<text class="t" x="449.8" y="592" fill="#191970" stroke="#191970" textLength="55.2" lengthAdjust="spacingAndGlyphs">21 Feb 15:00</text>
<rect x="515" y="580" width="1" height="3" fill="#191970"/>
<text class="t" x="513.8" y="592" fill="#191970" stroke="#191970" textLength="55.2" lengthAdjust="spacingAndGlyphs">22 Feb 03:00</text>
<rect x="579" y="580" width="1" height="3" fill="#191970"/>
<text class="t" x="577.8" y="592" fill="#191970" stroke="#191970" textLength="55.2" lengthAdjust="spacingAndGlyphs">22 Feb 11:00</text>
<rect x="643" y="580" width="1" height="3" fill="#191970"/>
<text class="t" x="641.8" y="592" fill="#191970" stroke="#191970" textLength="55.2" lengthAdjust="spacingAndGlyphs">22 Feb 19:00</text>
<rect x="707" y="580" width="1" height="3" fill="#191970"/>
<text class="t" x="705.8" y="592" fill="#191970" stroke="#191970" textLength="55.2" lengthAdjust="spacingAndGlyphs">25 Feb 07:00</text>
</g>
<rect x="2" y="2" width="759" height="1" fill="#191970"/>
<rect x="2" y="2" width="1" height="519" fill="#191970"/>
<rect x="2" y="520" width="759" height="1" fill="#191970"/>
<rect x="2" y="522" width="759" height="1" fill="#191970"/>
<rect x="2" y="522" width="1" height="58" fill="#191970"/>
<rect x="760" y="522" width="1" height="58" fill="#191970"/>
<rect x="2" y="579" width="759" height="1" fill="#191970"/>
</svg>
</body></html>
